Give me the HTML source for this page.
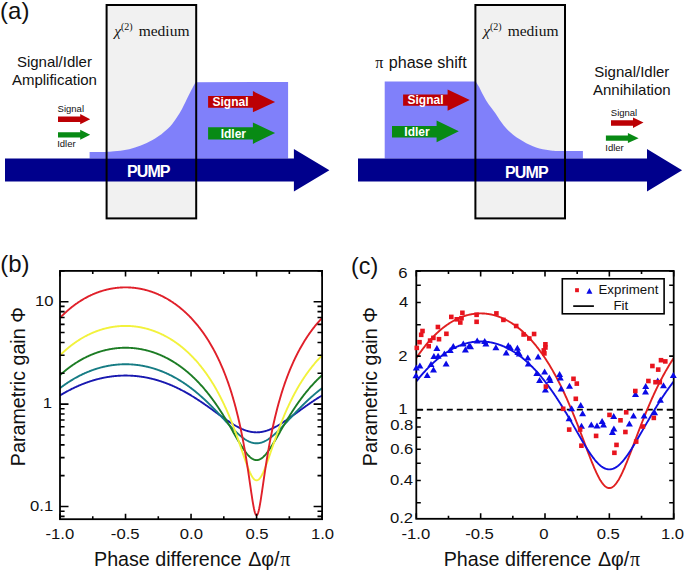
<!DOCTYPE html>
<html><head><meta charset="utf-8"><style>
html,body{margin:0;padding:0;background:#fff;width:685px;height:572px;overflow:hidden}
svg{display:block}
</style></head><body>
<svg width="685" height="572" viewBox="0 0 685 572">
<rect width="685" height="572" fill="#fff"/>
<text transform="translate(0.1,18.8) scale(1.045,1)" font-family="Liberation Sans, sans-serif" font-size="23" fill="#111">(a)</text>
<rect x="106.6" y="5" width="89.6" height="213.4" fill="#f1f1f1"/>
<path d="M89.6,158.6 L89.6,152 L106,152  C106.95,151.92 108.80,151.78 111.70,151.50 C114.60,151.22 119.52,150.98 123.40,150.30 C127.28,149.62 131.12,148.60 135.00,147.40 C138.88,146.20 142.80,144.95 146.70,143.10 C150.60,141.25 154.50,139.08 158.40,136.30 C162.30,133.52 166.98,129.62 170.10,126.40 C173.22,123.18 175.12,119.90 177.10,117.00 C179.08,114.10 180.08,112.58 182.00,109.00 C183.92,105.42 186.85,99.00 188.60,95.50 C190.35,92.00 191.35,90.22 192.50,88.00 C193.65,85.78 195.00,83.17 195.50,82.20 L288.1,82 L288.1,158.6 Z" fill="#8080fa"/>
<polygon points="5.0,158.4 293.9,158.4 293.9,149.0 329.4,170.3 293.9,191.6 293.9,181.6 5.0,181.6" fill="#00008c" />
<text x="127.0" y="177.4" font-family="Liberation Sans, sans-serif" font-size="16" font-weight="bold" letter-spacing="-0.9" fill="#fff">PUMP</text>
<rect x="106.6" y="5" width="89.6" height="213.4" fill="none" stroke="#000" stroke-width="2"/>
<text x="114.2" y="36" font-family="Liberation Serif, serif" font-size="15.5" fill="#111"><tspan font-style="italic">&#967;</tspan><tspan font-size="10" dy="-6">(2)</tspan><tspan dy="6" dx="6">medium</tspan></text>
<polygon points="208.1,95.9 252.9,95.9 252.9,91.1 275.1,101.9 252.9,112.3 252.9,107.7 208.1,107.7" fill="#bc0004" />
<text x="212.5" y="105.5" font-family="Liberation Sans, sans-serif" font-size="12" font-weight="bold" letter-spacing="0" fill="#fff">Signal</text>
<polygon points="208.1,127.2 252.9,127.2 252.9,122.5 275.1,132.9 252.9,143.9 252.9,139.5 208.1,139.5" fill="#088a14" />
<text x="220.7" y="137.5" font-family="Liberation Sans, sans-serif" font-size="12" font-weight="bold" letter-spacing="0" fill="#fff">Idler</text>
<text x="54.4" y="66.5" font-family="Liberation Sans, sans-serif" font-size="15" text-anchor="middle" fill="#111">Signal/Idler</text>
<text x="54.4" y="85" font-family="Liberation Sans, sans-serif" font-size="15" text-anchor="middle" fill="#111">Amplification</text>
<text x="57.6" y="111.8" font-family="Liberation Sans, sans-serif" font-size="9.5" fill="#111">Signal</text>
<polygon points="58.0,116.6 80.2,116.6 80.2,114.0 90.2,119.2 80.2,124.3 80.2,122.0 58.0,122.0" fill="#bc0004" />
<polygon points="58.0,132.2 80.2,132.2 80.2,129.7 90.2,134.8 80.2,139.8 80.2,137.4 58.0,137.4" fill="#088a14" />
<text x="57.2" y="147.2" font-family="Liberation Sans, sans-serif" font-size="9.5" fill="#111">Idler</text>
<rect x="475.4" y="5" width="89.6" height="213.4" fill="#f1f1f1"/>
<path d="M384.7,158.6 L384.7,81.4 L475.8,81.4  C476.33,82.47 477.73,84.48 479.00,86.80 C480.27,89.12 481.80,92.58 483.40,95.50 C485.00,98.42 486.63,101.38 488.60,104.30 C490.57,107.22 493.13,110.08 495.20,113.00 C497.27,115.92 499.10,119.17 501.00,121.80 C502.90,124.43 504.58,126.65 506.60,128.80 C508.62,130.95 510.92,132.95 513.10,134.70 C515.28,136.45 517.50,137.87 519.70,139.30 C521.90,140.73 524.10,142.13 526.30,143.30 C528.50,144.47 530.72,145.43 532.90,146.30 C535.08,147.17 537.22,147.92 539.40,148.50 C541.58,149.08 543.80,149.43 546.00,149.80 C548.20,150.17 549.77,150.48 552.60,150.70 C555.43,150.92 561.27,151.03 563.00,151.10 L582.9,151.1 L582.9,158.6 Z" fill="#8080fa"/>
<polygon points="358.0,158.4 647.0,158.4 647.0,149.0 682.1,170.3 647.0,191.6 647.0,181.6 358.0,181.6" fill="#00008c" />
<text x="505.1" y="177.5" font-family="Liberation Sans, sans-serif" font-size="16" font-weight="bold" letter-spacing="-0.9" fill="#fff">PUMP</text>
<rect x="475.4" y="5" width="89.6" height="213.4" fill="none" stroke="#000" stroke-width="2"/>
<text x="483.2" y="36" font-family="Liberation Serif, serif" font-size="15.5" fill="#111"><tspan font-style="italic">&#967;</tspan><tspan font-size="10" dy="-6">(2)</tspan><tspan dy="6" dx="6">medium</tspan></text>
<polygon points="403.1,94.4 447.6,94.4 447.6,89.4 469.8,99.9 447.6,110.8 447.6,105.7 403.1,105.7" fill="#bc0004" />
<text x="407.5" y="103.6" font-family="Liberation Sans, sans-serif" font-size="12" font-weight="bold" letter-spacing="0" fill="#fff">Signal</text>
<polygon points="392.0,125.9 436.6,125.9 436.6,120.6 458.8,131.3 436.6,142.2 436.6,137.6 392.0,137.6" fill="#088a14" />
<text x="404.3" y="135.9" font-family="Liberation Sans, sans-serif" font-size="12" font-weight="bold" letter-spacing="0" fill="#fff">Idler</text>
<text x="375.3" y="68.2" font-family="Liberation Serif, serif" font-size="16" fill="#111">&#960;</text>
<text x="388.7" y="68.2" font-family="Liberation Sans, sans-serif" font-size="16.15" fill="#111">phase shift</text>
<text x="631.8" y="76.7" font-family="Liberation Sans, sans-serif" font-size="15" text-anchor="middle" fill="#111">Signal/Idler</text>
<text x="631.8" y="95" font-family="Liberation Sans, sans-serif" font-size="15" text-anchor="middle" fill="#111">Annihilation</text>
<text x="610.8" y="115.6" font-family="Liberation Sans, sans-serif" font-size="9.5" fill="#111">Signal</text>
<polygon points="611.0,120.2 633.0,120.2 633.0,117.4 643.5,122.5 633.0,127.9 633.0,125.7 611.0,125.7" fill="#bc0004" />
<polygon points="605.9,135.4 627.9,135.4 627.9,133.0 638.6,138.2 627.9,143.1 627.9,140.7 605.9,140.7" fill="#088a14" />
<text x="605.3" y="150.8" font-family="Liberation Sans, sans-serif" font-size="9.5" fill="#111">Idler</text>
<defs><clipPath id="cb"><rect x="60.0" y="270.9" width="262.1" height="248.3"/></clipPath>
<clipPath id="cc"><rect x="416.3" y="270.9" width="257.4" height="247.9"/></clipPath></defs>
<path d="M60.00,395.44 L60.44,395.18 L60.87,394.92 L61.31,394.66 L61.75,394.40 L62.18,394.15 L62.62,393.89 L63.06,393.64 L63.49,393.39 L63.93,393.14 L64.37,392.89 L64.81,392.65 L65.24,392.40 L65.68,392.16 L66.12,391.92 L66.55,391.68 L66.99,391.44 L67.43,391.21 L67.86,390.97 L68.30,390.74 L68.74,390.51 L69.17,390.28 L69.61,390.05 L70.05,389.83 L70.48,389.60 L70.92,389.38 L71.36,389.16 L71.79,388.94 L72.23,388.73 L72.67,388.51 L73.11,388.30 L73.54,388.09 L73.98,387.88 L74.42,387.67 L74.85,387.46 L75.29,387.26 L75.73,387.05 L76.16,386.85 L76.60,386.65 L77.04,386.45 L77.47,386.26 L77.91,386.06 L78.35,385.87 L78.78,385.68 L79.22,385.49 L79.66,385.30 L80.09,385.12 L80.53,384.94 L80.97,384.75 L81.40,384.57 L81.84,384.40 L82.28,384.22 L82.72,384.04 L83.15,383.87 L83.59,383.70 L84.03,383.53 L84.46,383.36 L84.90,383.20 L85.34,383.03 L85.77,382.87 L86.21,382.71 L86.65,382.55 L87.08,382.40 L87.52,382.24 L87.96,382.09 L88.39,381.94 L88.83,381.79 L89.27,381.64 L89.70,381.49 L90.14,381.35 L90.58,381.20 L91.02,381.06 L91.45,380.92 L91.89,380.79 L92.33,380.65 L92.76,380.52 L93.20,380.39 L93.64,380.26 L94.07,380.13 L94.51,380.00 L94.95,379.88 L95.38,379.75 L95.82,379.63 L96.26,379.51 L96.69,379.40 L97.13,379.28 L97.57,379.17 L98.00,379.05 L98.44,378.94 L98.88,378.84 L99.32,378.73 L99.75,378.62 L100.19,378.52 L100.63,378.42 L101.06,378.32 L101.50,378.22 L101.94,378.12 L102.37,378.03 L102.81,377.94 L103.25,377.85 L103.68,377.76 L104.12,377.67 L104.56,377.58 L104.99,377.50 L105.43,377.42 L105.87,377.34 L106.30,377.26 L106.74,377.18 L107.18,377.11 L107.61,377.04 L108.05,376.96 L108.49,376.89 L108.93,376.83 L109.36,376.76 L109.80,376.70 L110.24,376.63 L110.67,376.57 L111.11,376.51 L111.55,376.46 L111.98,376.40 L112.42,376.35 L112.86,376.30 L113.29,376.25 L113.73,376.20 L114.17,376.15 L114.60,376.11 L115.04,376.06 L115.48,376.02 L115.91,375.98 L116.35,375.94 L116.79,375.91 L117.23,375.87 L117.66,375.84 L118.10,375.81 L118.54,375.78 L118.97,375.75 L119.41,375.73 L119.85,375.70 L120.28,375.68 L120.72,375.66 L121.16,375.64 L121.59,375.63 L122.03,375.61 L122.47,375.60 L122.90,375.59 L123.34,375.58 L123.78,375.57 L124.21,375.56 L124.65,375.56 L125.09,375.56 L125.53,375.56 L125.96,375.56 L126.40,375.56 L126.84,375.56 L127.27,375.57 L127.71,375.58 L128.15,375.59 L128.58,375.60 L129.02,375.61 L129.46,375.63 L129.89,375.64 L130.33,375.66 L130.77,375.68 L131.20,375.70 L131.64,375.73 L132.08,375.75 L132.51,375.78 L132.95,375.81 L133.39,375.84 L133.82,375.87 L134.26,375.91 L134.70,375.94 L135.14,375.98 L135.57,376.02 L136.01,376.06 L136.45,376.11 L136.88,376.15 L137.32,376.20 L137.76,376.25 L138.19,376.30 L138.63,376.35 L139.07,376.40 L139.50,376.46 L139.94,376.51 L140.38,376.57 L140.81,376.63 L141.25,376.70 L141.69,376.76 L142.12,376.83 L142.56,376.89 L143.00,376.96 L143.44,377.04 L143.87,377.11 L144.31,377.18 L144.75,377.26 L145.18,377.34 L145.62,377.42 L146.06,377.50 L146.49,377.58 L146.93,377.67 L147.37,377.76 L147.80,377.85 L148.24,377.94 L148.68,378.03 L149.11,378.12 L149.55,378.22 L149.99,378.32 L150.42,378.42 L150.86,378.52 L151.30,378.62 L151.74,378.73 L152.17,378.84 L152.61,378.94 L153.05,379.05 L153.48,379.17 L153.92,379.28 L154.36,379.40 L154.79,379.51 L155.23,379.63 L155.67,379.75 L156.10,379.88 L156.54,380.00 L156.98,380.13 L157.41,380.26 L157.85,380.39 L158.29,380.52 L158.72,380.65 L159.16,380.79 L159.60,380.92 L160.03,381.06 L160.47,381.20 L160.91,381.35 L161.35,381.49 L161.78,381.64 L162.22,381.79 L162.66,381.94 L163.09,382.09 L163.53,382.24 L163.97,382.40 L164.40,382.55 L164.84,382.71 L165.28,382.87 L165.71,383.03 L166.15,383.20 L166.59,383.36 L167.02,383.53 L167.46,383.70 L167.90,383.87 L168.33,384.04 L168.77,384.22 L169.21,384.40 L169.65,384.57 L170.08,384.75 L170.52,384.94 L170.96,385.12 L171.39,385.30 L171.83,385.49 L172.27,385.68 L172.70,385.87 L173.14,386.06 L173.58,386.26 L174.01,386.45 L174.45,386.65 L174.89,386.85 L175.32,387.05 L175.76,387.26 L176.20,387.46 L176.63,387.67 L177.07,387.88 L177.51,388.09 L177.94,388.30 L178.38,388.51 L178.82,388.73 L179.26,388.94 L179.69,389.16 L180.13,389.38 L180.57,389.60 L181.00,389.83 L181.44,390.05 L181.88,390.28 L182.31,390.51 L182.75,390.74 L183.19,390.97 L183.62,391.21 L184.06,391.44 L184.50,391.68 L184.93,391.92 L185.37,392.16 L185.81,392.40 L186.24,392.65 L186.68,392.89 L187.12,393.14 L187.56,393.39 L187.99,393.64 L188.43,393.89 L188.87,394.15 L189.30,394.40 L189.74,394.66 L190.18,394.92 L190.61,395.18 L191.05,395.44 L191.49,395.70 L191.92,395.97 L192.36,396.23 L192.80,396.50 L193.23,396.77 L193.67,397.04 L194.11,397.31 L194.54,397.59 L194.98,397.86 L195.42,398.14 L195.86,398.42 L196.29,398.70 L196.73,398.98 L197.17,399.26 L197.60,399.55 L198.04,399.83 L198.48,400.12 L198.91,400.40 L199.35,400.69 L199.79,400.98 L200.22,401.28 L200.66,401.57 L201.10,401.86 L201.53,402.16 L201.97,402.45 L202.41,402.75 L202.84,403.05 L203.28,403.35 L203.72,403.65 L204.16,403.95 L204.59,404.26 L205.03,404.56 L205.47,404.86 L205.90,405.17 L206.34,405.48 L206.78,405.78 L207.21,406.09 L207.65,406.40 L208.09,406.71 L208.52,407.02 L208.96,407.33 L209.40,407.65 L209.83,407.96 L210.27,408.27 L210.71,408.59 L211.14,408.90 L211.58,409.22 L212.02,409.53 L212.45,409.85 L212.89,410.17 L213.33,410.48 L213.77,410.80 L214.20,411.12 L214.64,411.43 L215.08,411.75 L215.51,412.07 L215.95,412.39 L216.39,412.71 L216.82,413.02 L217.26,413.34 L217.70,413.66 L218.13,413.98 L218.57,414.29 L219.01,414.61 L219.44,414.93 L219.88,415.24 L220.32,415.56 L220.75,415.87 L221.19,416.19 L221.63,416.50 L222.07,416.81 L222.50,417.13 L222.94,417.44 L223.38,417.75 L223.81,418.06 L224.25,418.37 L224.69,418.67 L225.12,418.98 L225.56,419.28 L226.00,419.59 L226.43,419.89 L226.87,420.19 L227.31,420.49 L227.74,420.78 L228.18,421.08 L228.62,421.37 L229.05,421.66 L229.49,421.95 L229.93,422.24 L230.37,422.52 L230.80,422.81 L231.24,423.09 L231.68,423.36 L232.11,423.64 L232.55,423.91 L232.99,424.18 L233.42,424.45 L233.86,424.71 L234.30,424.97 L234.73,425.23 L235.17,425.49 L235.61,425.74 L236.04,425.99 L236.48,426.23 L236.92,426.47 L237.35,426.71 L237.79,426.94 L238.23,427.18 L238.66,427.40 L239.10,427.62 L239.54,427.84 L239.98,428.06 L240.41,428.27 L240.85,428.47 L241.29,428.67 L241.72,428.87 L242.16,429.06 L242.60,429.25 L243.03,429.43 L243.47,429.61 L243.91,429.78 L244.34,429.95 L244.78,430.11 L245.22,430.27 L245.65,430.42 L246.09,430.56 L246.53,430.71 L246.96,430.84 L247.40,430.97 L247.84,431.10 L248.28,431.21 L248.71,431.33 L249.15,431.43 L249.59,431.54 L250.02,431.63 L250.46,431.72 L250.90,431.81 L251.33,431.88 L251.77,431.95 L252.21,432.02 L252.64,432.08 L253.08,432.13 L253.52,432.18 L253.95,432.22 L254.39,432.26 L254.83,432.28 L255.26,432.31 L255.70,432.32 L256.14,432.33 L256.58,432.33 L257.01,432.33 L257.45,432.32 L257.89,432.31 L258.32,432.28 L258.76,432.26 L259.20,432.22 L259.63,432.18 L260.07,432.13 L260.51,432.08 L260.94,432.02 L261.38,431.95 L261.82,431.88 L262.25,431.81 L262.69,431.72 L263.13,431.63 L263.56,431.54 L264.00,431.43 L264.44,431.33 L264.87,431.21 L265.31,431.10 L265.75,430.97 L266.19,430.84 L266.62,430.71 L267.06,430.56 L267.50,430.42 L267.93,430.27 L268.37,430.11 L268.81,429.95 L269.24,429.78 L269.68,429.61 L270.12,429.43 L270.55,429.25 L270.99,429.06 L271.43,428.87 L271.86,428.67 L272.30,428.47 L272.74,428.27 L273.17,428.06 L273.61,427.84 L274.05,427.62 L274.49,427.40 L274.92,427.18 L275.36,426.94 L275.80,426.71 L276.23,426.47 L276.67,426.23 L277.11,425.99 L277.54,425.74 L277.98,425.49 L278.42,425.23 L278.85,424.97 L279.29,424.71 L279.73,424.45 L280.16,424.18 L280.60,423.91 L281.04,423.64 L281.47,423.36 L281.91,423.09 L282.35,422.81 L282.79,422.52 L283.22,422.24 L283.66,421.95 L284.10,421.66 L284.53,421.37 L284.97,421.08 L285.41,420.78 L285.84,420.49 L286.28,420.19 L286.72,419.89 L287.15,419.59 L287.59,419.28 L288.03,418.98 L288.46,418.67 L288.90,418.37 L289.34,418.06 L289.77,417.75 L290.21,417.44 L290.65,417.13 L291.08,416.81 L291.52,416.50 L291.96,416.19 L292.40,415.87 L292.83,415.56 L293.27,415.24 L293.71,414.93 L294.14,414.61 L294.58,414.29 L295.02,413.98 L295.45,413.66 L295.89,413.34 L296.33,413.02 L296.76,412.71 L297.20,412.39 L297.64,412.07 L298.07,411.75 L298.51,411.43 L298.95,411.12 L299.38,410.80 L299.82,410.48 L300.26,410.17 L300.70,409.85 L301.13,409.53 L301.57,409.22 L302.01,408.90 L302.44,408.59 L302.88,408.27 L303.32,407.96 L303.75,407.65 L304.19,407.33 L304.63,407.02 L305.06,406.71 L305.50,406.40 L305.94,406.09 L306.37,405.78 L306.81,405.48 L307.25,405.17 L307.68,404.86 L308.12,404.56 L308.56,404.26 L309.00,403.95 L309.43,403.65 L309.87,403.35 L310.31,403.05 L310.74,402.75 L311.18,402.45 L311.62,402.16 L312.05,401.86 L312.49,401.57 L312.93,401.28 L313.36,400.98 L313.80,400.69 L314.24,400.40 L314.67,400.12 L315.11,399.83 L315.55,399.55 L315.98,399.26 L316.42,398.98 L316.86,398.70 L317.29,398.42 L317.73,398.14 L318.17,397.86 L318.61,397.59 L319.04,397.31 L319.48,397.04 L319.92,396.77 L320.35,396.50 L320.79,396.23 L321.23,395.97 L321.66,395.70 L322.10,395.44" fill="none" stroke="#1818b0" stroke-width="1.9" clip-path="url(#cb)"/>
<path d="M60.00,388.13 L60.44,387.80 L60.87,387.47 L61.31,387.15 L61.75,386.83 L62.18,386.51 L62.62,386.19 L63.06,385.87 L63.49,385.56 L63.93,385.25 L64.37,384.94 L64.81,384.64 L65.24,384.34 L65.68,384.04 L66.12,383.74 L66.55,383.44 L66.99,383.15 L67.43,382.86 L67.86,382.57 L68.30,382.28 L68.74,382.00 L69.17,381.72 L69.61,381.44 L70.05,381.17 L70.48,380.89 L70.92,380.62 L71.36,380.35 L71.79,380.09 L72.23,379.82 L72.67,379.56 L73.11,379.30 L73.54,379.04 L73.98,378.79 L74.42,378.54 L74.85,378.29 L75.29,378.04 L75.73,377.79 L76.16,377.55 L76.60,377.31 L77.04,377.07 L77.47,376.84 L77.91,376.60 L78.35,376.37 L78.78,376.14 L79.22,375.92 L79.66,375.69 L80.09,375.47 L80.53,375.25 L80.97,375.03 L81.40,374.82 L81.84,374.61 L82.28,374.40 L82.72,374.19 L83.15,373.98 L83.59,373.78 L84.03,373.58 L84.46,373.38 L84.90,373.18 L85.34,372.99 L85.77,372.79 L86.21,372.60 L86.65,372.42 L87.08,372.23 L87.52,372.05 L87.96,371.87 L88.39,371.69 L88.83,371.51 L89.27,371.34 L89.70,371.16 L90.14,370.99 L90.58,370.83 L91.02,370.66 L91.45,370.50 L91.89,370.34 L92.33,370.18 L92.76,370.02 L93.20,369.87 L93.64,369.71 L94.07,369.56 L94.51,369.41 L94.95,369.27 L95.38,369.12 L95.82,368.98 L96.26,368.84 L96.69,368.71 L97.13,368.57 L97.57,368.44 L98.00,368.31 L98.44,368.18 L98.88,368.05 L99.32,367.93 L99.75,367.80 L100.19,367.68 L100.63,367.57 L101.06,367.45 L101.50,367.34 L101.94,367.22 L102.37,367.11 L102.81,367.01 L103.25,366.90 L103.68,366.80 L104.12,366.70 L104.56,366.60 L104.99,366.50 L105.43,366.40 L105.87,366.31 L106.30,366.22 L106.74,366.13 L107.18,366.04 L107.61,365.96 L108.05,365.88 L108.49,365.80 L108.93,365.72 L109.36,365.64 L109.80,365.57 L110.24,365.49 L110.67,365.42 L111.11,365.36 L111.55,365.29 L111.98,365.23 L112.42,365.16 L112.86,365.10 L113.29,365.05 L113.73,364.99 L114.17,364.94 L114.60,364.88 L115.04,364.83 L115.48,364.79 L115.91,364.74 L116.35,364.70 L116.79,364.66 L117.23,364.62 L117.66,364.58 L118.10,364.54 L118.54,364.51 L118.97,364.48 L119.41,364.45 L119.85,364.42 L120.28,364.40 L120.72,364.37 L121.16,364.35 L121.59,364.33 L122.03,364.31 L122.47,364.30 L122.90,364.29 L123.34,364.27 L123.78,364.27 L124.21,364.26 L124.65,364.25 L125.09,364.25 L125.53,364.25 L125.96,364.25 L126.40,364.25 L126.84,364.26 L127.27,364.27 L127.71,364.27 L128.15,364.29 L128.58,364.30 L129.02,364.31 L129.46,364.33 L129.89,364.35 L130.33,364.37 L130.77,364.40 L131.20,364.42 L131.64,364.45 L132.08,364.48 L132.51,364.51 L132.95,364.54 L133.39,364.58 L133.82,364.62 L134.26,364.66 L134.70,364.70 L135.14,364.74 L135.57,364.79 L136.01,364.83 L136.45,364.88 L136.88,364.94 L137.32,364.99 L137.76,365.05 L138.19,365.10 L138.63,365.16 L139.07,365.23 L139.50,365.29 L139.94,365.36 L140.38,365.42 L140.81,365.49 L141.25,365.57 L141.69,365.64 L142.12,365.72 L142.56,365.80 L143.00,365.88 L143.44,365.96 L143.87,366.04 L144.31,366.13 L144.75,366.22 L145.18,366.31 L145.62,366.40 L146.06,366.50 L146.49,366.60 L146.93,366.70 L147.37,366.80 L147.80,366.90 L148.24,367.01 L148.68,367.11 L149.11,367.22 L149.55,367.34 L149.99,367.45 L150.42,367.57 L150.86,367.68 L151.30,367.80 L151.74,367.93 L152.17,368.05 L152.61,368.18 L153.05,368.31 L153.48,368.44 L153.92,368.57 L154.36,368.71 L154.79,368.84 L155.23,368.98 L155.67,369.12 L156.10,369.27 L156.54,369.41 L156.98,369.56 L157.41,369.71 L157.85,369.87 L158.29,370.02 L158.72,370.18 L159.16,370.34 L159.60,370.50 L160.03,370.66 L160.47,370.83 L160.91,370.99 L161.35,371.16 L161.78,371.34 L162.22,371.51 L162.66,371.69 L163.09,371.87 L163.53,372.05 L163.97,372.23 L164.40,372.42 L164.84,372.60 L165.28,372.79 L165.71,372.99 L166.15,373.18 L166.59,373.38 L167.02,373.58 L167.46,373.78 L167.90,373.98 L168.33,374.19 L168.77,374.40 L169.21,374.61 L169.65,374.82 L170.08,375.03 L170.52,375.25 L170.96,375.47 L171.39,375.69 L171.83,375.92 L172.27,376.14 L172.70,376.37 L173.14,376.60 L173.58,376.84 L174.01,377.07 L174.45,377.31 L174.89,377.55 L175.32,377.79 L175.76,378.04 L176.20,378.29 L176.63,378.54 L177.07,378.79 L177.51,379.04 L177.94,379.30 L178.38,379.56 L178.82,379.82 L179.26,380.09 L179.69,380.35 L180.13,380.62 L180.57,380.89 L181.00,381.17 L181.44,381.44 L181.88,381.72 L182.31,382.00 L182.75,382.28 L183.19,382.57 L183.62,382.86 L184.06,383.15 L184.50,383.44 L184.93,383.74 L185.37,384.04 L185.81,384.34 L186.24,384.64 L186.68,384.94 L187.12,385.25 L187.56,385.56 L187.99,385.87 L188.43,386.19 L188.87,386.51 L189.30,386.83 L189.74,387.15 L190.18,387.47 L190.61,387.80 L191.05,388.13 L191.49,388.46 L191.92,388.80 L192.36,389.14 L192.80,389.48 L193.23,389.82 L193.67,390.16 L194.11,390.51 L194.54,390.86 L194.98,391.21 L195.42,391.57 L195.86,391.92 L196.29,392.28 L196.73,392.64 L197.17,393.01 L197.60,393.37 L198.04,393.74 L198.48,394.11 L198.91,394.49 L199.35,394.87 L199.79,395.24 L200.22,395.63 L200.66,396.01 L201.10,396.39 L201.53,396.78 L201.97,397.17 L202.41,397.57 L202.84,397.96 L203.28,398.36 L203.72,398.76 L204.16,399.16 L204.59,399.57 L205.03,399.97 L205.47,400.38 L205.90,400.79 L206.34,401.21 L206.78,401.62 L207.21,402.04 L207.65,402.46 L208.09,402.88 L208.52,403.31 L208.96,403.74 L209.40,404.16 L209.83,404.59 L210.27,405.03 L210.71,405.46 L211.14,405.90 L211.58,406.34 L212.02,406.78 L212.45,407.22 L212.89,407.66 L213.33,408.11 L213.77,408.56 L214.20,409.01 L214.64,409.46 L215.08,409.91 L215.51,410.36 L215.95,410.82 L216.39,411.27 L216.82,411.73 L217.26,412.19 L217.70,412.65 L218.13,413.11 L218.57,413.58 L219.01,414.04 L219.44,414.51 L219.88,414.97 L220.32,415.44 L220.75,415.91 L221.19,416.38 L221.63,416.84 L222.07,417.31 L222.50,417.78 L222.94,418.25 L223.38,418.73 L223.81,419.20 L224.25,419.67 L224.69,420.14 L225.12,420.61 L225.56,421.08 L226.00,421.55 L226.43,422.02 L226.87,422.49 L227.31,422.95 L227.74,423.42 L228.18,423.89 L228.62,424.35 L229.05,424.82 L229.49,425.28 L229.93,425.74 L230.37,426.20 L230.80,426.65 L231.24,427.11 L231.68,427.56 L232.11,428.01 L232.55,428.46 L232.99,428.91 L233.42,429.35 L233.86,429.79 L234.30,430.22 L234.73,430.66 L235.17,431.08 L235.61,431.51 L236.04,431.93 L236.48,432.35 L236.92,432.76 L237.35,433.17 L237.79,433.57 L238.23,433.97 L238.66,434.36 L239.10,434.75 L239.54,435.13 L239.98,435.50 L240.41,435.87 L240.85,436.24 L241.29,436.59 L241.72,436.94 L242.16,437.28 L242.60,437.62 L243.03,437.95 L243.47,438.27 L243.91,438.58 L244.34,438.88 L244.78,439.18 L245.22,439.46 L245.65,439.74 L246.09,440.01 L246.53,440.27 L246.96,440.52 L247.40,440.76 L247.84,440.99 L248.28,441.21 L248.71,441.42 L249.15,441.62 L249.59,441.81 L250.02,441.99 L250.46,442.16 L250.90,442.32 L251.33,442.47 L251.77,442.60 L252.21,442.72 L252.64,442.84 L253.08,442.94 L253.52,443.03 L253.95,443.10 L254.39,443.17 L254.83,443.22 L255.26,443.27 L255.70,443.30 L256.14,443.31 L256.58,443.32 L257.01,443.31 L257.45,443.30 L257.89,443.27 L258.32,443.22 L258.76,443.17 L259.20,443.10 L259.63,443.03 L260.07,442.94 L260.51,442.84 L260.94,442.72 L261.38,442.60 L261.82,442.47 L262.25,442.32 L262.69,442.16 L263.13,441.99 L263.56,441.81 L264.00,441.62 L264.44,441.42 L264.87,441.21 L265.31,440.99 L265.75,440.76 L266.19,440.52 L266.62,440.27 L267.06,440.01 L267.50,439.74 L267.93,439.46 L268.37,439.18 L268.81,438.88 L269.24,438.58 L269.68,438.27 L270.12,437.95 L270.55,437.62 L270.99,437.28 L271.43,436.94 L271.86,436.59 L272.30,436.24 L272.74,435.87 L273.17,435.50 L273.61,435.13 L274.05,434.75 L274.49,434.36 L274.92,433.97 L275.36,433.57 L275.80,433.17 L276.23,432.76 L276.67,432.35 L277.11,431.93 L277.54,431.51 L277.98,431.08 L278.42,430.66 L278.85,430.22 L279.29,429.79 L279.73,429.35 L280.16,428.91 L280.60,428.46 L281.04,428.01 L281.47,427.56 L281.91,427.11 L282.35,426.65 L282.79,426.20 L283.22,425.74 L283.66,425.28 L284.10,424.82 L284.53,424.35 L284.97,423.89 L285.41,423.42 L285.84,422.95 L286.28,422.49 L286.72,422.02 L287.15,421.55 L287.59,421.08 L288.03,420.61 L288.46,420.14 L288.90,419.67 L289.34,419.20 L289.77,418.73 L290.21,418.25 L290.65,417.78 L291.08,417.31 L291.52,416.84 L291.96,416.38 L292.40,415.91 L292.83,415.44 L293.27,414.97 L293.71,414.51 L294.14,414.04 L294.58,413.58 L295.02,413.11 L295.45,412.65 L295.89,412.19 L296.33,411.73 L296.76,411.27 L297.20,410.82 L297.64,410.36 L298.07,409.91 L298.51,409.46 L298.95,409.01 L299.38,408.56 L299.82,408.11 L300.26,407.66 L300.70,407.22 L301.13,406.78 L301.57,406.34 L302.01,405.90 L302.44,405.46 L302.88,405.03 L303.32,404.59 L303.75,404.16 L304.19,403.74 L304.63,403.31 L305.06,402.88 L305.50,402.46 L305.94,402.04 L306.37,401.62 L306.81,401.21 L307.25,400.79 L307.68,400.38 L308.12,399.97 L308.56,399.57 L309.00,399.16 L309.43,398.76 L309.87,398.36 L310.31,397.96 L310.74,397.57 L311.18,397.17 L311.62,396.78 L312.05,396.39 L312.49,396.01 L312.93,395.63 L313.36,395.24 L313.80,394.87 L314.24,394.49 L314.67,394.11 L315.11,393.74 L315.55,393.37 L315.98,393.01 L316.42,392.64 L316.86,392.28 L317.29,391.92 L317.73,391.57 L318.17,391.21 L318.61,390.86 L319.04,390.51 L319.48,390.16 L319.92,389.82 L320.35,389.48 L320.79,389.14 L321.23,388.80 L321.66,388.46 L322.10,388.13" fill="none" stroke="#167c84" stroke-width="1.9" clip-path="url(#cb)"/>
<path d="M60.00,375.16 L60.44,374.76 L60.87,374.37 L61.31,373.99 L61.75,373.60 L62.18,373.22 L62.62,372.84 L63.06,372.47 L63.49,372.10 L63.93,371.73 L64.37,371.37 L64.81,371.01 L65.24,370.65 L65.68,370.29 L66.12,369.94 L66.55,369.60 L66.99,369.25 L67.43,368.91 L67.86,368.57 L68.30,368.24 L68.74,367.91 L69.17,367.58 L69.61,367.25 L70.05,366.93 L70.48,366.61 L70.92,366.30 L71.36,365.99 L71.79,365.68 L72.23,365.37 L72.67,365.07 L73.11,364.77 L73.54,364.47 L73.98,364.18 L74.42,363.88 L74.85,363.60 L75.29,363.31 L75.73,363.03 L76.16,362.75 L76.60,362.47 L77.04,362.20 L77.47,361.93 L77.91,361.66 L78.35,361.40 L78.78,361.13 L79.22,360.88 L79.66,360.62 L80.09,360.37 L80.53,360.12 L80.97,359.87 L81.40,359.62 L81.84,359.38 L82.28,359.14 L82.72,358.90 L83.15,358.67 L83.59,358.44 L84.03,358.21 L84.46,357.98 L84.90,357.76 L85.34,357.54 L85.77,357.32 L86.21,357.11 L86.65,356.89 L87.08,356.68 L87.52,356.48 L87.96,356.27 L88.39,356.07 L88.83,355.87 L89.27,355.67 L89.70,355.48 L90.14,355.29 L90.58,355.10 L91.02,354.91 L91.45,354.73 L91.89,354.55 L92.33,354.37 L92.76,354.19 L93.20,354.02 L93.64,353.85 L94.07,353.68 L94.51,353.51 L94.95,353.35 L95.38,353.19 L95.82,353.03 L96.26,352.87 L96.69,352.72 L97.13,352.57 L97.57,352.42 L98.00,352.27 L98.44,352.13 L98.88,351.99 L99.32,351.85 L99.75,351.71 L100.19,351.57 L100.63,351.44 L101.06,351.31 L101.50,351.19 L101.94,351.06 L102.37,350.94 L102.81,350.82 L103.25,350.70 L103.68,350.59 L104.12,350.47 L104.56,350.36 L104.99,350.25 L105.43,350.15 L105.87,350.04 L106.30,349.94 L106.74,349.84 L107.18,349.75 L107.61,349.65 L108.05,349.56 L108.49,349.47 L108.93,349.38 L109.36,349.30 L109.80,349.22 L110.24,349.14 L110.67,349.06 L111.11,348.98 L111.55,348.91 L111.98,348.84 L112.42,348.77 L112.86,348.70 L113.29,348.64 L113.73,348.58 L114.17,348.52 L114.60,348.46 L115.04,348.40 L115.48,348.35 L115.91,348.30 L116.35,348.25 L116.79,348.21 L117.23,348.16 L117.66,348.12 L118.10,348.08 L118.54,348.04 L118.97,348.01 L119.41,347.98 L119.85,347.95 L120.28,347.92 L120.72,347.89 L121.16,347.87 L121.59,347.85 L122.03,347.83 L122.47,347.81 L122.90,347.80 L123.34,347.78 L123.78,347.77 L124.21,347.77 L124.65,347.76 L125.09,347.76 L125.53,347.76 L125.96,347.76 L126.40,347.76 L126.84,347.77 L127.27,347.77 L127.71,347.78 L128.15,347.80 L128.58,347.81 L129.02,347.83 L129.46,347.85 L129.89,347.87 L130.33,347.89 L130.77,347.92 L131.20,347.95 L131.64,347.98 L132.08,348.01 L132.51,348.04 L132.95,348.08 L133.39,348.12 L133.82,348.16 L134.26,348.21 L134.70,348.25 L135.14,348.30 L135.57,348.35 L136.01,348.40 L136.45,348.46 L136.88,348.52 L137.32,348.58 L137.76,348.64 L138.19,348.70 L138.63,348.77 L139.07,348.84 L139.50,348.91 L139.94,348.98 L140.38,349.06 L140.81,349.14 L141.25,349.22 L141.69,349.30 L142.12,349.38 L142.56,349.47 L143.00,349.56 L143.44,349.65 L143.87,349.75 L144.31,349.84 L144.75,349.94 L145.18,350.04 L145.62,350.15 L146.06,350.25 L146.49,350.36 L146.93,350.47 L147.37,350.59 L147.80,350.70 L148.24,350.82 L148.68,350.94 L149.11,351.06 L149.55,351.19 L149.99,351.31 L150.42,351.44 L150.86,351.57 L151.30,351.71 L151.74,351.85 L152.17,351.99 L152.61,352.13 L153.05,352.27 L153.48,352.42 L153.92,352.57 L154.36,352.72 L154.79,352.87 L155.23,353.03 L155.67,353.19 L156.10,353.35 L156.54,353.51 L156.98,353.68 L157.41,353.85 L157.85,354.02 L158.29,354.19 L158.72,354.37 L159.16,354.55 L159.60,354.73 L160.03,354.91 L160.47,355.10 L160.91,355.29 L161.35,355.48 L161.78,355.67 L162.22,355.87 L162.66,356.07 L163.09,356.27 L163.53,356.48 L163.97,356.68 L164.40,356.89 L164.84,357.11 L165.28,357.32 L165.71,357.54 L166.15,357.76 L166.59,357.98 L167.02,358.21 L167.46,358.44 L167.90,358.67 L168.33,358.90 L168.77,359.14 L169.21,359.38 L169.65,359.62 L170.08,359.87 L170.52,360.12 L170.96,360.37 L171.39,360.62 L171.83,360.88 L172.27,361.13 L172.70,361.40 L173.14,361.66 L173.58,361.93 L174.01,362.20 L174.45,362.47 L174.89,362.75 L175.32,363.03 L175.76,363.31 L176.20,363.60 L176.63,363.88 L177.07,364.18 L177.51,364.47 L177.94,364.77 L178.38,365.07 L178.82,365.37 L179.26,365.68 L179.69,365.99 L180.13,366.30 L180.57,366.61 L181.00,366.93 L181.44,367.25 L181.88,367.58 L182.31,367.91 L182.75,368.24 L183.19,368.57 L183.62,368.91 L184.06,369.25 L184.50,369.60 L184.93,369.94 L185.37,370.29 L185.81,370.65 L186.24,371.01 L186.68,371.37 L187.12,371.73 L187.56,372.10 L187.99,372.47 L188.43,372.84 L188.87,373.22 L189.30,373.60 L189.74,373.99 L190.18,374.37 L190.61,374.76 L191.05,375.16 L191.49,375.56 L191.92,375.96 L192.36,376.37 L192.80,376.77 L193.23,377.19 L193.67,377.60 L194.11,378.02 L194.54,378.45 L194.98,378.88 L195.42,379.31 L195.86,379.74 L196.29,380.18 L196.73,380.62 L197.17,381.07 L197.60,381.52 L198.04,381.97 L198.48,382.43 L198.91,382.89 L199.35,383.36 L199.79,383.83 L200.22,384.30 L200.66,384.78 L201.10,385.26 L201.53,385.75 L201.97,386.24 L202.41,386.73 L202.84,387.23 L203.28,387.73 L203.72,388.24 L204.16,388.75 L204.59,389.26 L205.03,389.78 L205.47,390.30 L205.90,390.83 L206.34,391.36 L206.78,391.89 L207.21,392.43 L207.65,392.98 L208.09,393.52 L208.52,394.08 L208.96,394.63 L209.40,395.19 L209.83,395.76 L210.27,396.33 L210.71,396.90 L211.14,397.48 L211.58,398.07 L212.02,398.65 L212.45,399.24 L212.89,399.84 L213.33,400.44 L213.77,401.05 L214.20,401.66 L214.64,402.27 L215.08,402.89 L215.51,403.51 L215.95,404.14 L216.39,404.77 L216.82,405.41 L217.26,406.05 L217.70,406.69 L218.13,407.34 L218.57,408.00 L219.01,408.65 L219.44,409.32 L219.88,409.98 L220.32,410.65 L220.75,411.33 L221.19,412.01 L221.63,412.69 L222.07,413.38 L222.50,414.07 L222.94,414.77 L223.38,415.47 L223.81,416.17 L224.25,416.88 L224.69,417.59 L225.12,418.30 L225.56,419.02 L226.00,419.74 L226.43,420.47 L226.87,421.20 L227.31,421.93 L227.74,422.66 L228.18,423.40 L228.62,424.14 L229.05,424.88 L229.49,425.63 L229.93,426.37 L230.37,427.12 L230.80,427.88 L231.24,428.63 L231.68,429.38 L232.11,430.14 L232.55,430.89 L232.99,431.65 L233.42,432.41 L233.86,433.16 L234.30,433.92 L234.73,434.68 L235.17,435.43 L235.61,436.19 L236.04,436.94 L236.48,437.69 L236.92,438.44 L237.35,439.19 L237.79,439.93 L238.23,440.67 L238.66,441.40 L239.10,442.13 L239.54,442.86 L239.98,443.58 L240.41,444.29 L240.85,445.00 L241.29,445.69 L241.72,446.39 L242.16,447.07 L242.60,447.74 L243.03,448.40 L243.47,449.05 L243.91,449.69 L244.34,450.32 L244.78,450.94 L245.22,451.54 L245.65,452.12 L246.09,452.70 L246.53,453.25 L246.96,453.79 L247.40,454.31 L247.84,454.82 L248.28,455.30 L248.71,455.77 L249.15,456.21 L249.59,456.64 L250.02,457.04 L250.46,457.42 L250.90,457.78 L251.33,458.11 L251.77,458.42 L252.21,458.70 L252.64,458.96 L253.08,459.19 L253.52,459.40 L253.95,459.58 L254.39,459.73 L254.83,459.86 L255.26,459.95 L255.70,460.02 L256.14,460.07 L256.58,460.08 L257.01,460.07 L257.45,460.02 L257.89,459.95 L258.32,459.86 L258.76,459.73 L259.20,459.58 L259.63,459.40 L260.07,459.19 L260.51,458.96 L260.94,458.70 L261.38,458.42 L261.82,458.11 L262.25,457.78 L262.69,457.42 L263.13,457.04 L263.56,456.64 L264.00,456.21 L264.44,455.77 L264.87,455.30 L265.31,454.82 L265.75,454.31 L266.19,453.79 L266.62,453.25 L267.06,452.70 L267.50,452.12 L267.93,451.54 L268.37,450.94 L268.81,450.32 L269.24,449.69 L269.68,449.05 L270.12,448.40 L270.55,447.74 L270.99,447.07 L271.43,446.39 L271.86,445.69 L272.30,445.00 L272.74,444.29 L273.17,443.58 L273.61,442.86 L274.05,442.13 L274.49,441.40 L274.92,440.67 L275.36,439.93 L275.80,439.19 L276.23,438.44 L276.67,437.69 L277.11,436.94 L277.54,436.19 L277.98,435.43 L278.42,434.68 L278.85,433.92 L279.29,433.16 L279.73,432.41 L280.16,431.65 L280.60,430.89 L281.04,430.14 L281.47,429.38 L281.91,428.63 L282.35,427.88 L282.79,427.12 L283.22,426.37 L283.66,425.63 L284.10,424.88 L284.53,424.14 L284.97,423.40 L285.41,422.66 L285.84,421.93 L286.28,421.20 L286.72,420.47 L287.15,419.74 L287.59,419.02 L288.03,418.30 L288.46,417.59 L288.90,416.88 L289.34,416.17 L289.77,415.47 L290.21,414.77 L290.65,414.07 L291.08,413.38 L291.52,412.69 L291.96,412.01 L292.40,411.33 L292.83,410.65 L293.27,409.98 L293.71,409.32 L294.14,408.65 L294.58,408.00 L295.02,407.34 L295.45,406.69 L295.89,406.05 L296.33,405.41 L296.76,404.77 L297.20,404.14 L297.64,403.51 L298.07,402.89 L298.51,402.27 L298.95,401.66 L299.38,401.05 L299.82,400.44 L300.26,399.84 L300.70,399.24 L301.13,398.65 L301.57,398.07 L302.01,397.48 L302.44,396.90 L302.88,396.33 L303.32,395.76 L303.75,395.19 L304.19,394.63 L304.63,394.08 L305.06,393.52 L305.50,392.98 L305.94,392.43 L306.37,391.89 L306.81,391.36 L307.25,390.83 L307.68,390.30 L308.12,389.78 L308.56,389.26 L309.00,388.75 L309.43,388.24 L309.87,387.73 L310.31,387.23 L310.74,386.73 L311.18,386.24 L311.62,385.75 L312.05,385.26 L312.49,384.78 L312.93,384.30 L313.36,383.83 L313.80,383.36 L314.24,382.89 L314.67,382.43 L315.11,381.97 L315.55,381.52 L315.98,381.07 L316.42,380.62 L316.86,380.18 L317.29,379.74 L317.73,379.31 L318.17,378.88 L318.61,378.45 L319.04,378.02 L319.48,377.60 L319.92,377.19 L320.35,376.77 L320.79,376.37 L321.23,375.96 L321.66,375.56 L322.10,375.16" fill="none" stroke="#1c7c24" stroke-width="1.9" clip-path="url(#cb)"/>
<path d="M60.00,355.39 L60.44,354.96 L60.87,354.52 L61.31,354.10 L61.75,353.67 L62.18,353.26 L62.62,352.84 L63.06,352.43 L63.49,352.02 L63.93,351.62 L64.37,351.22 L64.81,350.83 L65.24,350.44 L65.68,350.05 L66.12,349.67 L66.55,349.29 L66.99,348.92 L67.43,348.55 L67.86,348.18 L68.30,347.81 L68.74,347.45 L69.17,347.10 L69.61,346.75 L70.05,346.40 L70.48,346.05 L70.92,345.71 L71.36,345.37 L71.79,345.04 L72.23,344.70 L72.67,344.38 L73.11,344.05 L73.54,343.73 L73.98,343.41 L74.42,343.10 L74.85,342.79 L75.29,342.48 L75.73,342.18 L76.16,341.88 L76.60,341.58 L77.04,341.29 L77.47,341.00 L77.91,340.71 L78.35,340.42 L78.78,340.14 L79.22,339.86 L79.66,339.59 L80.09,339.32 L80.53,339.05 L80.97,338.78 L81.40,338.52 L81.84,338.26 L82.28,338.00 L82.72,337.75 L83.15,337.50 L83.59,337.25 L84.03,337.01 L84.46,336.77 L84.90,336.53 L85.34,336.29 L85.77,336.06 L86.21,335.83 L86.65,335.61 L87.08,335.38 L87.52,335.16 L87.96,334.94 L88.39,334.73 L88.83,334.52 L89.27,334.31 L89.70,334.10 L90.14,333.90 L90.58,333.69 L91.02,333.50 L91.45,333.30 L91.89,333.11 L92.33,332.92 L92.76,332.73 L93.20,332.55 L93.64,332.36 L94.07,332.19 L94.51,332.01 L94.95,331.83 L95.38,331.66 L95.82,331.50 L96.26,331.33 L96.69,331.17 L97.13,331.01 L97.57,330.85 L98.00,330.69 L98.44,330.54 L98.88,330.39 L99.32,330.24 L99.75,330.10 L100.19,329.96 L100.63,329.82 L101.06,329.68 L101.50,329.54 L101.94,329.41 L102.37,329.28 L102.81,329.16 L103.25,329.03 L103.68,328.91 L104.12,328.79 L104.56,328.67 L104.99,328.56 L105.43,328.45 L105.87,328.34 L106.30,328.23 L106.74,328.13 L107.18,328.02 L107.61,327.92 L108.05,327.83 L108.49,327.73 L108.93,327.64 L109.36,327.55 L109.80,327.46 L110.24,327.38 L110.67,327.30 L111.11,327.22 L111.55,327.14 L111.98,327.06 L112.42,326.99 L112.86,326.92 L113.29,326.85 L113.73,326.79 L114.17,326.73 L114.60,326.67 L115.04,326.61 L115.48,326.55 L115.91,326.50 L116.35,326.45 L116.79,326.40 L117.23,326.35 L117.66,326.31 L118.10,326.27 L118.54,326.23 L118.97,326.19 L119.41,326.16 L119.85,326.12 L120.28,326.10 L120.72,326.07 L121.16,326.04 L121.59,326.02 L122.03,326.00 L122.47,325.98 L122.90,325.97 L123.34,325.95 L123.78,325.94 L124.21,325.94 L124.65,325.93 L125.09,325.93 L125.53,325.92 L125.96,325.93 L126.40,325.93 L126.84,325.94 L127.27,325.94 L127.71,325.95 L128.15,325.97 L128.58,325.98 L129.02,326.00 L129.46,326.02 L129.89,326.04 L130.33,326.07 L130.77,326.10 L131.20,326.12 L131.64,326.16 L132.08,326.19 L132.51,326.23 L132.95,326.27 L133.39,326.31 L133.82,326.35 L134.26,326.40 L134.70,326.45 L135.14,326.50 L135.57,326.55 L136.01,326.61 L136.45,326.67 L136.88,326.73 L137.32,326.79 L137.76,326.85 L138.19,326.92 L138.63,326.99 L139.07,327.06 L139.50,327.14 L139.94,327.22 L140.38,327.30 L140.81,327.38 L141.25,327.46 L141.69,327.55 L142.12,327.64 L142.56,327.73 L143.00,327.83 L143.44,327.92 L143.87,328.02 L144.31,328.13 L144.75,328.23 L145.18,328.34 L145.62,328.45 L146.06,328.56 L146.49,328.67 L146.93,328.79 L147.37,328.91 L147.80,329.03 L148.24,329.16 L148.68,329.28 L149.11,329.41 L149.55,329.54 L149.99,329.68 L150.42,329.82 L150.86,329.96 L151.30,330.10 L151.74,330.24 L152.17,330.39 L152.61,330.54 L153.05,330.69 L153.48,330.85 L153.92,331.01 L154.36,331.17 L154.79,331.33 L155.23,331.50 L155.67,331.66 L156.10,331.83 L156.54,332.01 L156.98,332.19 L157.41,332.36 L157.85,332.55 L158.29,332.73 L158.72,332.92 L159.16,333.11 L159.60,333.30 L160.03,333.50 L160.47,333.69 L160.91,333.90 L161.35,334.10 L161.78,334.31 L162.22,334.52 L162.66,334.73 L163.09,334.94 L163.53,335.16 L163.97,335.38 L164.40,335.61 L164.84,335.83 L165.28,336.06 L165.71,336.29 L166.15,336.53 L166.59,336.77 L167.02,337.01 L167.46,337.25 L167.90,337.50 L168.33,337.75 L168.77,338.00 L169.21,338.26 L169.65,338.52 L170.08,338.78 L170.52,339.05 L170.96,339.32 L171.39,339.59 L171.83,339.86 L172.27,340.14 L172.70,340.42 L173.14,340.71 L173.58,341.00 L174.01,341.29 L174.45,341.58 L174.89,341.88 L175.32,342.18 L175.76,342.48 L176.20,342.79 L176.63,343.10 L177.07,343.41 L177.51,343.73 L177.94,344.05 L178.38,344.38 L178.82,344.70 L179.26,345.04 L179.69,345.37 L180.13,345.71 L180.57,346.05 L181.00,346.40 L181.44,346.75 L181.88,347.10 L182.31,347.45 L182.75,347.81 L183.19,348.18 L183.62,348.55 L184.06,348.92 L184.50,349.29 L184.93,349.67 L185.37,350.05 L185.81,350.44 L186.24,350.83 L186.68,351.22 L187.12,351.62 L187.56,352.02 L187.99,352.43 L188.43,352.84 L188.87,353.26 L189.30,353.67 L189.74,354.10 L190.18,354.52 L190.61,354.96 L191.05,355.39 L191.49,355.83 L191.92,356.28 L192.36,356.72 L192.80,357.18 L193.23,357.63 L193.67,358.10 L194.11,358.56 L194.54,359.03 L194.98,359.51 L195.42,359.99 L195.86,360.47 L196.29,360.96 L196.73,361.46 L197.17,361.96 L197.60,362.46 L198.04,362.97 L198.48,363.49 L198.91,364.01 L199.35,364.53 L199.79,365.06 L200.22,365.59 L200.66,366.13 L201.10,366.68 L201.53,367.23 L201.97,367.79 L202.41,368.35 L202.84,368.91 L203.28,369.49 L203.72,370.06 L204.16,370.65 L204.59,371.24 L205.03,371.83 L205.47,372.43 L205.90,373.04 L206.34,373.65 L206.78,374.27 L207.21,374.90 L207.65,375.53 L208.09,376.17 L208.52,376.81 L208.96,377.46 L209.40,378.12 L209.83,378.78 L210.27,379.45 L210.71,380.13 L211.14,380.81 L211.58,381.50 L212.02,382.20 L212.45,382.91 L212.89,383.62 L213.33,384.34 L213.77,385.06 L214.20,385.79 L214.64,386.54 L215.08,387.28 L215.51,388.04 L215.95,388.80 L216.39,389.57 L216.82,390.35 L217.26,391.14 L217.70,391.94 L218.13,392.74 L218.57,393.55 L219.01,394.37 L219.44,395.20 L219.88,396.03 L220.32,396.88 L220.75,397.73 L221.19,398.60 L221.63,399.47 L222.07,400.35 L222.50,401.24 L222.94,402.14 L223.38,403.05 L223.81,403.97 L224.25,404.89 L224.69,405.83 L225.12,406.78 L225.56,407.73 L226.00,408.70 L226.43,409.67 L226.87,410.66 L227.31,411.66 L227.74,412.66 L228.18,413.68 L228.62,414.71 L229.05,415.74 L229.49,416.79 L229.93,417.85 L230.37,418.92 L230.80,419.99 L231.24,421.08 L231.68,422.18 L232.11,423.29 L232.55,424.41 L232.99,425.54 L233.42,426.68 L233.86,427.83 L234.30,429.00 L234.73,430.17 L235.17,431.35 L235.61,432.54 L236.04,433.74 L236.48,434.95 L236.92,436.16 L237.35,437.39 L237.79,438.62 L238.23,439.87 L238.66,441.11 L239.10,442.37 L239.54,443.63 L239.98,444.90 L240.41,446.17 L240.85,447.44 L241.29,448.72 L241.72,450.00 L242.16,451.28 L242.60,452.56 L243.03,453.84 L243.47,455.12 L243.91,456.39 L244.34,457.65 L244.78,458.91 L245.22,460.16 L245.65,461.39 L246.09,462.61 L246.53,463.82 L246.96,465.00 L247.40,466.17 L247.84,467.31 L248.28,468.42 L248.71,469.50 L249.15,470.55 L249.59,471.57 L250.02,472.54 L250.46,473.47 L250.90,474.36 L251.33,475.20 L251.77,475.98 L252.21,476.71 L252.64,477.38 L253.08,477.99 L253.52,478.53 L253.95,479.01 L254.39,479.42 L254.83,479.76 L255.26,480.02 L255.70,480.21 L256.14,480.32 L256.58,480.36 L257.01,480.32 L257.45,480.21 L257.89,480.02 L258.32,479.76 L258.76,479.42 L259.20,479.01 L259.63,478.53 L260.07,477.99 L260.51,477.38 L260.94,476.71 L261.38,475.98 L261.82,475.20 L262.25,474.36 L262.69,473.47 L263.13,472.54 L263.56,471.57 L264.00,470.55 L264.44,469.50 L264.87,468.42 L265.31,467.31 L265.75,466.17 L266.19,465.00 L266.62,463.82 L267.06,462.61 L267.50,461.39 L267.93,460.16 L268.37,458.91 L268.81,457.65 L269.24,456.39 L269.68,455.12 L270.12,453.84 L270.55,452.56 L270.99,451.28 L271.43,450.00 L271.86,448.72 L272.30,447.44 L272.74,446.17 L273.17,444.90 L273.61,443.63 L274.05,442.37 L274.49,441.11 L274.92,439.87 L275.36,438.62 L275.80,437.39 L276.23,436.16 L276.67,434.95 L277.11,433.74 L277.54,432.54 L277.98,431.35 L278.42,430.17 L278.85,429.00 L279.29,427.83 L279.73,426.68 L280.16,425.54 L280.60,424.41 L281.04,423.29 L281.47,422.18 L281.91,421.08 L282.35,419.99 L282.79,418.92 L283.22,417.85 L283.66,416.79 L284.10,415.74 L284.53,414.71 L284.97,413.68 L285.41,412.66 L285.84,411.66 L286.28,410.66 L286.72,409.67 L287.15,408.70 L287.59,407.73 L288.03,406.78 L288.46,405.83 L288.90,404.89 L289.34,403.97 L289.77,403.05 L290.21,402.14 L290.65,401.24 L291.08,400.35 L291.52,399.47 L291.96,398.60 L292.40,397.73 L292.83,396.88 L293.27,396.03 L293.71,395.20 L294.14,394.37 L294.58,393.55 L295.02,392.74 L295.45,391.94 L295.89,391.14 L296.33,390.35 L296.76,389.57 L297.20,388.80 L297.64,388.04 L298.07,387.28 L298.51,386.54 L298.95,385.79 L299.38,385.06 L299.82,384.34 L300.26,383.62 L300.70,382.91 L301.13,382.20 L301.57,381.50 L302.01,380.81 L302.44,380.13 L302.88,379.45 L303.32,378.78 L303.75,378.12 L304.19,377.46 L304.63,376.81 L305.06,376.17 L305.50,375.53 L305.94,374.90 L306.37,374.27 L306.81,373.65 L307.25,373.04 L307.68,372.43 L308.12,371.83 L308.56,371.24 L309.00,370.65 L309.43,370.06 L309.87,369.49 L310.31,368.91 L310.74,368.35 L311.18,367.79 L311.62,367.23 L312.05,366.68 L312.49,366.13 L312.93,365.59 L313.36,365.06 L313.80,364.53 L314.24,364.01 L314.67,363.49 L315.11,362.97 L315.55,362.46 L315.98,361.96 L316.42,361.46 L316.86,360.96 L317.29,360.47 L317.73,359.99 L318.17,359.51 L318.61,359.03 L319.04,358.56 L319.48,358.10 L319.92,357.63 L320.35,357.18 L320.79,356.72 L321.23,356.28 L321.66,355.83 L322.10,355.39" fill="none" stroke="#f2f23c" stroke-width="1.9" clip-path="url(#cb)"/>
<path d="M60.00,317.94 L60.44,317.48 L60.87,317.03 L61.31,316.58 L61.75,316.14 L62.18,315.70 L62.62,315.26 L63.06,314.83 L63.49,314.41 L63.93,313.98 L64.37,313.57 L64.81,313.15 L65.24,312.75 L65.68,312.34 L66.12,311.94 L66.55,311.55 L66.99,311.15 L67.43,310.77 L67.86,310.38 L68.30,310.00 L68.74,309.63 L69.17,309.26 L69.61,308.89 L70.05,308.53 L70.48,308.17 L70.92,307.81 L71.36,307.46 L71.79,307.11 L72.23,306.77 L72.67,306.42 L73.11,306.09 L73.54,305.75 L73.98,305.42 L74.42,305.10 L74.85,304.78 L75.29,304.46 L75.73,304.14 L76.16,303.83 L76.60,303.52 L77.04,303.22 L77.47,302.91 L77.91,302.62 L78.35,302.32 L78.78,302.03 L79.22,301.74 L79.66,301.46 L80.09,301.18 L80.53,300.90 L80.97,300.62 L81.40,300.35 L81.84,300.08 L82.28,299.82 L82.72,299.56 L83.15,299.30 L83.59,299.04 L84.03,298.79 L84.46,298.54 L84.90,298.29 L85.34,298.05 L85.77,297.81 L86.21,297.57 L86.65,297.34 L87.08,297.11 L87.52,296.88 L87.96,296.65 L88.39,296.43 L88.83,296.21 L89.27,296.00 L89.70,295.78 L90.14,295.57 L90.58,295.37 L91.02,295.16 L91.45,294.96 L91.89,294.76 L92.33,294.57 L92.76,294.37 L93.20,294.18 L93.64,294.00 L94.07,293.81 L94.51,293.63 L94.95,293.45 L95.38,293.27 L95.82,293.10 L96.26,292.93 L96.69,292.76 L97.13,292.60 L97.57,292.43 L98.00,292.27 L98.44,292.12 L98.88,291.96 L99.32,291.81 L99.75,291.66 L100.19,291.52 L100.63,291.37 L101.06,291.23 L101.50,291.09 L101.94,290.96 L102.37,290.82 L102.81,290.69 L103.25,290.57 L103.68,290.44 L104.12,290.32 L104.56,290.20 L104.99,290.08 L105.43,289.97 L105.87,289.85 L106.30,289.74 L106.74,289.64 L107.18,289.53 L107.61,289.43 L108.05,289.33 L108.49,289.23 L108.93,289.14 L109.36,289.05 L109.80,288.96 L110.24,288.87 L110.67,288.78 L111.11,288.70 L111.55,288.62 L111.98,288.55 L112.42,288.47 L112.86,288.40 L113.29,288.33 L113.73,288.26 L114.17,288.20 L114.60,288.14 L115.04,288.08 L115.48,288.02 L115.91,287.96 L116.35,287.91 L116.79,287.86 L117.23,287.81 L117.66,287.77 L118.10,287.73 L118.54,287.69 L118.97,287.65 L119.41,287.61 L119.85,287.58 L120.28,287.55 L120.72,287.52 L121.16,287.50 L121.59,287.47 L122.03,287.45 L122.47,287.44 L122.90,287.42 L123.34,287.41 L123.78,287.40 L124.21,287.39 L124.65,287.38 L125.09,287.38 L125.53,287.38 L125.96,287.38 L126.40,287.38 L126.84,287.39 L127.27,287.40 L127.71,287.41 L128.15,287.42 L128.58,287.44 L129.02,287.45 L129.46,287.47 L129.89,287.50 L130.33,287.52 L130.77,287.55 L131.20,287.58 L131.64,287.61 L132.08,287.65 L132.51,287.69 L132.95,287.73 L133.39,287.77 L133.82,287.81 L134.26,287.86 L134.70,287.91 L135.14,287.96 L135.57,288.02 L136.01,288.08 L136.45,288.14 L136.88,288.20 L137.32,288.26 L137.76,288.33 L138.19,288.40 L138.63,288.47 L139.07,288.55 L139.50,288.62 L139.94,288.70 L140.38,288.78 L140.81,288.87 L141.25,288.96 L141.69,289.05 L142.12,289.14 L142.56,289.23 L143.00,289.33 L143.44,289.43 L143.87,289.53 L144.31,289.64 L144.75,289.74 L145.18,289.85 L145.62,289.97 L146.06,290.08 L146.49,290.20 L146.93,290.32 L147.37,290.44 L147.80,290.57 L148.24,290.69 L148.68,290.82 L149.11,290.96 L149.55,291.09 L149.99,291.23 L150.42,291.37 L150.86,291.52 L151.30,291.66 L151.74,291.81 L152.17,291.96 L152.61,292.12 L153.05,292.27 L153.48,292.43 L153.92,292.60 L154.36,292.76 L154.79,292.93 L155.23,293.10 L155.67,293.27 L156.10,293.45 L156.54,293.63 L156.98,293.81 L157.41,294.00 L157.85,294.18 L158.29,294.37 L158.72,294.57 L159.16,294.76 L159.60,294.96 L160.03,295.16 L160.47,295.37 L160.91,295.57 L161.35,295.78 L161.78,296.00 L162.22,296.21 L162.66,296.43 L163.09,296.65 L163.53,296.88 L163.97,297.11 L164.40,297.34 L164.84,297.57 L165.28,297.81 L165.71,298.05 L166.15,298.29 L166.59,298.54 L167.02,298.79 L167.46,299.04 L167.90,299.30 L168.33,299.56 L168.77,299.82 L169.21,300.08 L169.65,300.35 L170.08,300.62 L170.52,300.90 L170.96,301.18 L171.39,301.46 L171.83,301.74 L172.27,302.03 L172.70,302.32 L173.14,302.62 L173.58,302.91 L174.01,303.22 L174.45,303.52 L174.89,303.83 L175.32,304.14 L175.76,304.46 L176.20,304.78 L176.63,305.10 L177.07,305.42 L177.51,305.75 L177.94,306.09 L178.38,306.42 L178.82,306.77 L179.26,307.11 L179.69,307.46 L180.13,307.81 L180.57,308.17 L181.00,308.53 L181.44,308.89 L181.88,309.26 L182.31,309.63 L182.75,310.00 L183.19,310.38 L183.62,310.77 L184.06,311.15 L184.50,311.55 L184.93,311.94 L185.37,312.34 L185.81,312.75 L186.24,313.15 L186.68,313.57 L187.12,313.98 L187.56,314.41 L187.99,314.83 L188.43,315.26 L188.87,315.70 L189.30,316.14 L189.74,316.58 L190.18,317.03 L190.61,317.48 L191.05,317.94 L191.49,318.40 L191.92,318.87 L192.36,319.34 L192.80,319.82 L193.23,320.30 L193.67,320.79 L194.11,321.28 L194.54,321.78 L194.98,322.28 L195.42,322.79 L195.86,323.30 L196.29,323.82 L196.73,324.34 L197.17,324.87 L197.60,325.41 L198.04,325.95 L198.48,326.49 L198.91,327.04 L199.35,327.60 L199.79,328.17 L200.22,328.74 L200.66,329.31 L201.10,329.89 L201.53,330.48 L201.97,331.08 L202.41,331.68 L202.84,332.28 L203.28,332.90 L203.72,333.52 L204.16,334.14 L204.59,334.78 L205.03,335.42 L205.47,336.06 L205.90,336.72 L206.34,337.38 L206.78,338.05 L207.21,338.72 L207.65,339.41 L208.09,340.10 L208.52,340.80 L208.96,341.51 L209.40,342.22 L209.83,342.94 L210.27,343.67 L210.71,344.41 L211.14,345.16 L211.58,345.92 L212.02,346.68 L212.45,347.46 L212.89,348.24 L213.33,349.03 L213.77,349.84 L214.20,350.65 L214.64,351.47 L215.08,352.30 L215.51,353.14 L215.95,353.99 L216.39,354.85 L216.82,355.72 L217.26,356.61 L217.70,357.50 L218.13,358.41 L218.57,359.32 L219.01,360.25 L219.44,361.19 L219.88,362.14 L220.32,363.11 L220.75,364.08 L221.19,365.07 L221.63,366.08 L222.07,367.09 L222.50,368.12 L222.94,369.17 L223.38,370.22 L223.81,371.30 L224.25,372.38 L224.69,373.49 L225.12,374.61 L225.56,375.74 L226.00,376.89 L226.43,378.06 L226.87,379.24 L227.31,380.45 L227.74,381.67 L228.18,382.91 L228.62,384.16 L229.05,385.44 L229.49,386.74 L229.93,388.05 L230.37,389.39 L230.80,390.75 L231.24,392.13 L231.68,393.54 L232.11,394.97 L232.55,396.42 L232.99,397.89 L233.42,399.40 L233.86,400.92 L234.30,402.48 L234.73,404.06 L235.17,405.67 L235.61,407.31 L236.04,408.98 L236.48,410.68 L236.92,412.41 L237.35,414.17 L237.79,415.97 L238.23,417.80 L238.66,419.67 L239.10,421.58 L239.54,423.52 L239.98,425.51 L240.41,427.53 L240.85,429.60 L241.29,431.70 L241.72,433.85 L242.16,436.05 L242.60,438.29 L243.03,440.58 L243.47,442.92 L243.91,445.31 L244.34,447.75 L244.78,450.24 L245.22,452.78 L245.65,455.37 L246.09,458.02 L246.53,460.71 L246.96,463.46 L247.40,466.25 L247.84,469.10 L248.28,471.98 L248.71,474.90 L249.15,477.86 L249.59,480.84 L250.02,483.84 L250.46,486.84 L250.90,489.83 L251.33,492.80 L251.77,495.71 L252.21,498.55 L252.64,501.29 L253.08,503.89 L253.52,506.31 L253.95,508.53 L254.39,510.50 L254.83,512.18 L255.26,513.53 L255.70,514.52 L256.14,515.12 L256.58,515.33 L257.01,515.12 L257.45,514.52 L257.89,513.53 L258.32,512.18 L258.76,510.50 L259.20,508.53 L259.63,506.31 L260.07,503.89 L260.51,501.29 L260.94,498.55 L261.38,495.71 L261.82,492.80 L262.25,489.83 L262.69,486.84 L263.13,483.84 L263.56,480.84 L264.00,477.86 L264.44,474.90 L264.87,471.98 L265.31,469.10 L265.75,466.25 L266.19,463.46 L266.62,460.71 L267.06,458.02 L267.50,455.37 L267.93,452.78 L268.37,450.24 L268.81,447.75 L269.24,445.31 L269.68,442.92 L270.12,440.58 L270.55,438.29 L270.99,436.05 L271.43,433.85 L271.86,431.70 L272.30,429.60 L272.74,427.53 L273.17,425.51 L273.61,423.52 L274.05,421.58 L274.49,419.67 L274.92,417.80 L275.36,415.97 L275.80,414.17 L276.23,412.41 L276.67,410.68 L277.11,408.98 L277.54,407.31 L277.98,405.67 L278.42,404.06 L278.85,402.48 L279.29,400.92 L279.73,399.40 L280.16,397.89 L280.60,396.42 L281.04,394.97 L281.47,393.54 L281.91,392.13 L282.35,390.75 L282.79,389.39 L283.22,388.05 L283.66,386.74 L284.10,385.44 L284.53,384.16 L284.97,382.91 L285.41,381.67 L285.84,380.45 L286.28,379.24 L286.72,378.06 L287.15,376.89 L287.59,375.74 L288.03,374.61 L288.46,373.49 L288.90,372.38 L289.34,371.30 L289.77,370.22 L290.21,369.17 L290.65,368.12 L291.08,367.09 L291.52,366.08 L291.96,365.07 L292.40,364.08 L292.83,363.11 L293.27,362.14 L293.71,361.19 L294.14,360.25 L294.58,359.32 L295.02,358.41 L295.45,357.50 L295.89,356.61 L296.33,355.72 L296.76,354.85 L297.20,353.99 L297.64,353.14 L298.07,352.30 L298.51,351.47 L298.95,350.65 L299.38,349.84 L299.82,349.03 L300.26,348.24 L300.70,347.46 L301.13,346.68 L301.57,345.92 L302.01,345.16 L302.44,344.41 L302.88,343.67 L303.32,342.94 L303.75,342.22 L304.19,341.51 L304.63,340.80 L305.06,340.10 L305.50,339.41 L305.94,338.72 L306.37,338.05 L306.81,337.38 L307.25,336.72 L307.68,336.06 L308.12,335.42 L308.56,334.78 L309.00,334.14 L309.43,333.52 L309.87,332.90 L310.31,332.28 L310.74,331.68 L311.18,331.08 L311.62,330.48 L312.05,329.89 L312.49,329.31 L312.93,328.74 L313.36,328.17 L313.80,327.60 L314.24,327.04 L314.67,326.49 L315.11,325.95 L315.55,325.41 L315.98,324.87 L316.42,324.34 L316.86,323.82 L317.29,323.30 L317.73,322.79 L318.17,322.28 L318.61,321.78 L319.04,321.28 L319.48,320.79 L319.92,320.30 L320.35,319.82 L320.79,319.34 L321.23,318.87 L321.66,318.40 L322.10,317.94" fill="none" stroke="#e0202a" stroke-width="1.9" clip-path="url(#cb)"/>
<path d="M60.0,516.42h4.6 M322.1,516.42h-4.6 M60.0,511.19h4.6 M322.1,511.19h-4.6 M60.0,506.50h8.5 M322.1,506.50h-8.5 M60.0,475.67h4.6 M322.1,475.67h-4.6 M60.0,457.64h4.6 M322.1,457.64h-4.6 M60.0,444.85h4.6 M322.1,444.85h-4.6 M60.0,434.93h4.6 M322.1,434.93h-4.6 M60.0,426.82h4.6 M322.1,426.82h-4.6 M60.0,419.96h4.6 M322.1,419.96h-4.6 M60.0,414.02h4.6 M322.1,414.02h-4.6 M60.0,408.79h4.6 M322.1,408.79h-4.6 M60.0,404.10h8.5 M322.1,404.10h-8.5 M60.0,373.27h4.6 M322.1,373.27h-4.6 M60.0,355.24h4.6 M322.1,355.24h-4.6 M60.0,342.45h4.6 M322.1,342.45h-4.6 M60.0,332.53h4.6 M322.1,332.53h-4.6 M60.0,324.42h4.6 M322.1,324.42h-4.6 M60.0,317.56h4.6 M322.1,317.56h-4.6 M60.0,311.62h4.6 M322.1,311.62h-4.6 M60.0,306.39h4.6 M322.1,306.39h-4.6 M60.0,301.70h8.5 M322.1,301.70h-8.5 M60.0,270.87h4.6 M322.1,270.87h-4.6 M60.00,519.2v-5.5 M60.00,270.9v5.5 M92.76,519.2v-3.0 M92.76,270.9v3.0 M125.53,519.2v-5.5 M125.53,270.9v5.5 M158.29,519.2v-3.0 M158.29,270.9v3.0 M191.05,519.2v-5.5 M191.05,270.9v5.5 M223.81,519.2v-3.0 M223.81,270.9v3.0 M256.58,519.2v-5.5 M256.58,270.9v5.5 M289.34,519.2v-3.0 M289.34,270.9v3.0 M322.10,519.2v-5.5 M322.10,270.9v5.5" stroke="#000" stroke-width="1.6" fill="none"/>
<rect x="60.0" y="270.9" width="262.1" height="248.3" fill="none" stroke="#000" stroke-width="1.8"/>
<text transform="translate(0.2,272) scale(1.045,1)" font-family="Liberation Sans, sans-serif" font-size="23" fill="#111">(b)</text>
<text transform="translate(44.35,305.80) scale(1.15,1)" font-family="Liberation Sans, sans-serif" font-size="14.5" text-anchor="middle" fill="#111">10</text>
<text transform="translate(47.30,408.30) scale(1.15,1)" font-family="Liberation Sans, sans-serif" font-size="14.5" text-anchor="middle" fill="#111">1</text>
<text transform="translate(41.60,510.70) scale(1.15,1)" font-family="Liberation Sans, sans-serif" font-size="14.5" text-anchor="middle" fill="#111">0.1</text>
<text transform="translate(59.90,539.20) scale(1.15,1)" font-family="Liberation Sans, sans-serif" font-size="14.5" text-anchor="middle" fill="#111">-1.0</text>
<text transform="translate(125.20,539.20) scale(1.15,1)" font-family="Liberation Sans, sans-serif" font-size="14.5" text-anchor="middle" fill="#111">-0.5</text>
<text transform="translate(191.35,539.20) scale(1.15,1)" font-family="Liberation Sans, sans-serif" font-size="14.5" text-anchor="middle" fill="#111">0.0</text>
<text transform="translate(257.00,539.20) scale(1.15,1)" font-family="Liberation Sans, sans-serif" font-size="14.5" text-anchor="middle" fill="#111">0.5</text>
<text transform="translate(322.50,539.20) scale(1.15,1)" font-family="Liberation Sans, sans-serif" font-size="14.5" text-anchor="middle" fill="#111">1.0</text>
<text x="94.0" y="566.2" font-family="Liberation Sans, sans-serif" font-size="19.7" fill="#111">Phase difference</text>
<text x="248.2" y="566.2" font-family="Liberation Sans, sans-serif" font-size="19.7" fill="#111">&#916;&#966;/</text>
<text x="280.2" y="566.2" font-family="Liberation Serif, serif" font-size="20" fill="#111">&#960;</text>
<text transform="translate(25.0,466.2) rotate(-90)" x="0" y="0" font-family="Liberation Sans, sans-serif" font-size="19.7" fill="#111">Parametric gain &#934;</text>
<line x1="416.8" y1="409.7" x2="673.7" y2="409.7" stroke="#000" stroke-width="1.7" stroke-dasharray="6,4"/>
<path d="M416.30,358.07 L416.73,357.43 L417.16,356.79 L417.59,356.16 L418.02,355.54 L418.44,354.91 L418.87,354.30 L419.30,353.69 L419.73,353.09 L420.16,352.49 L420.59,351.89 L421.02,351.31 L421.45,350.72 L421.88,350.15 L422.31,349.57 L422.74,349.01 L423.16,348.45 L423.59,347.89 L424.02,347.34 L424.45,346.79 L424.88,346.25 L425.31,345.72 L425.74,345.19 L426.17,344.66 L426.60,344.14 L427.03,343.63 L427.45,343.12 L427.88,342.61 L428.31,342.11 L428.74,341.62 L429.17,341.13 L429.60,340.64 L430.03,340.16 L430.46,339.69 L430.89,339.22 L431.31,338.75 L431.74,338.29 L432.17,337.84 L432.60,337.39 L433.03,336.94 L433.46,336.50 L433.89,336.06 L434.32,335.63 L434.75,335.20 L435.18,334.78 L435.61,334.36 L436.03,333.95 L436.46,333.54 L436.89,333.13 L437.32,332.73 L437.75,332.34 L438.18,331.95 L438.61,331.56 L439.04,331.18 L439.47,330.80 L439.90,330.43 L440.32,330.06 L440.75,329.70 L441.18,329.34 L441.61,328.98 L442.04,328.63 L442.47,328.29 L442.90,327.94 L443.33,327.61 L443.76,327.27 L444.19,326.94 L444.61,326.62 L445.04,326.30 L445.47,325.98 L445.90,325.67 L446.33,325.36 L446.76,325.06 L447.19,324.76 L447.62,324.46 L448.05,324.17 L448.48,323.88 L448.90,323.60 L449.33,323.32 L449.76,323.04 L450.19,322.77 L450.62,322.51 L451.05,322.24 L451.48,321.99 L451.91,321.73 L452.34,321.48 L452.76,321.23 L453.19,320.99 L453.62,320.75 L454.05,320.52 L454.48,320.29 L454.91,320.06 L455.34,319.84 L455.77,319.62 L456.20,319.40 L456.63,319.19 L457.06,318.99 L457.48,318.78 L457.91,318.58 L458.34,318.39 L458.77,318.20 L459.20,318.01 L459.63,317.83 L460.06,317.65 L460.49,317.47 L460.92,317.30 L461.35,317.13 L461.77,316.96 L462.20,316.80 L462.63,316.65 L463.06,316.49 L463.49,316.34 L463.92,316.20 L464.35,316.06 L464.78,315.92 L465.21,315.78 L465.63,315.65 L466.06,315.53 L466.49,315.40 L466.92,315.28 L467.35,315.17 L467.78,315.06 L468.21,314.95 L468.64,314.84 L469.07,314.74 L469.50,314.65 L469.93,314.55 L470.35,314.46 L470.78,314.38 L471.21,314.29 L471.64,314.22 L472.07,314.14 L472.50,314.07 L472.93,314.00 L473.36,313.94 L473.79,313.88 L474.22,313.82 L474.64,313.77 L475.07,313.72 L475.50,313.67 L475.93,313.63 L476.36,313.59 L476.79,313.56 L477.22,313.53 L477.65,313.50 L478.08,313.48 L478.50,313.46 L478.93,313.44 L479.36,313.43 L479.79,313.42 L480.22,313.41 L480.65,313.41 L481.08,313.41 L481.51,313.42 L481.94,313.43 L482.37,313.44 L482.80,313.46 L483.22,313.48 L483.65,313.50 L484.08,313.53 L484.51,313.56 L484.94,313.59 L485.37,313.63 L485.80,313.67 L486.23,313.72 L486.66,313.77 L487.09,313.82 L487.51,313.88 L487.94,313.94 L488.37,314.00 L488.80,314.07 L489.23,314.14 L489.66,314.22 L490.09,314.29 L490.52,314.38 L490.95,314.46 L491.38,314.55 L491.80,314.65 L492.23,314.74 L492.66,314.84 L493.09,314.95 L493.52,315.06 L493.95,315.17 L494.38,315.28 L494.81,315.40 L495.24,315.53 L495.67,315.65 L496.09,315.78 L496.52,315.92 L496.95,316.06 L497.38,316.20 L497.81,316.34 L498.24,316.49 L498.67,316.65 L499.10,316.80 L499.53,316.96 L499.96,317.13 L500.38,317.30 L500.81,317.47 L501.24,317.65 L501.67,317.83 L502.10,318.01 L502.53,318.20 L502.96,318.39 L503.39,318.58 L503.82,318.78 L504.25,318.99 L504.67,319.19 L505.10,319.40 L505.53,319.62 L505.96,319.84 L506.39,320.06 L506.82,320.29 L507.25,320.52 L507.68,320.75 L508.11,320.99 L508.54,321.23 L508.96,321.48 L509.39,321.73 L509.82,321.99 L510.25,322.24 L510.68,322.51 L511.11,322.77 L511.54,323.04 L511.97,323.32 L512.40,323.60 L512.83,323.88 L513.25,324.17 L513.68,324.46 L514.11,324.76 L514.54,325.06 L514.97,325.36 L515.40,325.67 L515.83,325.98 L516.26,326.30 L516.69,326.62 L517.12,326.94 L517.54,327.27 L517.97,327.61 L518.40,327.94 L518.83,328.29 L519.26,328.63 L519.69,328.98 L520.12,329.34 L520.55,329.70 L520.98,330.06 L521.40,330.43 L521.83,330.80 L522.26,331.18 L522.69,331.56 L523.12,331.95 L523.55,332.34 L523.98,332.73 L524.41,333.13 L524.84,333.54 L525.27,333.95 L525.70,334.36 L526.12,334.78 L526.55,335.20 L526.98,335.63 L527.41,336.06 L527.84,336.50 L528.27,336.94 L528.70,337.39 L529.13,337.84 L529.56,338.29 L529.99,338.75 L530.41,339.22 L530.84,339.69 L531.27,340.16 L531.70,340.64 L532.13,341.13 L532.56,341.62 L532.99,342.11 L533.42,342.61 L533.85,343.12 L534.27,343.63 L534.70,344.14 L535.13,344.66 L535.56,345.19 L535.99,345.72 L536.42,346.25 L536.85,346.79 L537.28,347.34 L537.71,347.89 L538.14,348.45 L538.57,349.01 L538.99,349.57 L539.42,350.15 L539.85,350.72 L540.28,351.31 L540.71,351.89 L541.14,352.49 L541.57,353.09 L542.00,353.69 L542.43,354.30 L542.86,354.91 L543.28,355.54 L543.71,356.16 L544.14,356.79 L544.57,357.43 L545.00,358.07 L545.43,358.72 L545.86,359.38 L546.29,360.04 L546.72,360.70 L547.14,361.38 L547.57,362.05 L548.00,362.74 L548.43,363.43 L548.86,364.12 L549.29,364.82 L549.72,365.53 L550.15,366.24 L550.58,366.96 L551.01,367.68 L551.44,368.42 L551.86,369.15 L552.29,369.90 L552.72,370.64 L553.15,371.40 L553.58,372.16 L554.01,372.93 L554.44,373.70 L554.87,374.48 L555.30,375.27 L555.73,376.06 L556.15,376.86 L556.58,377.66 L557.01,378.48 L557.44,379.29 L557.87,380.12 L558.30,380.95 L558.73,381.78 L559.16,382.63 L559.59,383.48 L560.02,384.33 L560.44,385.19 L560.87,386.06 L561.30,386.94 L561.73,387.82 L562.16,388.71 L562.59,389.60 L563.02,390.50 L563.45,391.41 L563.88,392.33 L564.31,393.25 L564.73,394.17 L565.16,395.11 L565.59,396.05 L566.02,396.99 L566.45,397.94 L566.88,398.90 L567.31,399.87 L567.74,400.84 L568.17,401.82 L568.60,402.80 L569.02,403.79 L569.45,404.79 L569.88,405.79 L570.31,406.80 L570.74,407.81 L571.17,408.83 L571.60,409.86 L572.03,410.89 L572.46,411.93 L572.88,412.98 L573.31,414.03 L573.74,415.08 L574.17,416.14 L574.60,417.21 L575.03,418.28 L575.46,419.36 L575.89,420.44 L576.32,421.52 L576.75,422.61 L577.18,423.71 L577.60,424.81 L578.03,425.91 L578.46,427.02 L578.89,428.13 L579.32,429.25 L579.75,430.37 L580.18,431.49 L580.61,432.62 L581.04,433.75 L581.47,434.88 L581.89,436.01 L582.32,437.14 L582.75,438.28 L583.18,439.42 L583.61,440.56 L584.04,441.70 L584.47,442.84 L584.90,443.98 L585.33,445.12 L585.75,446.25 L586.18,447.39 L586.61,448.53 L587.04,449.66 L587.47,450.79 L587.90,451.91 L588.33,453.04 L588.76,454.16 L589.19,455.27 L589.62,456.38 L590.05,457.48 L590.47,458.57 L590.90,459.66 L591.33,460.74 L591.76,461.81 L592.19,462.87 L592.62,463.93 L593.05,464.97 L593.48,465.99 L593.91,467.01 L594.34,468.01 L594.76,469.00 L595.19,469.97 L595.62,470.93 L596.05,471.87 L596.48,472.79 L596.91,473.70 L597.34,474.58 L597.77,475.45 L598.20,476.29 L598.62,477.11 L599.05,477.91 L599.48,478.69 L599.91,479.43 L600.34,480.16 L600.77,480.85 L601.20,481.52 L601.63,482.16 L602.06,482.78 L602.49,483.36 L602.91,483.91 L603.34,484.43 L603.77,484.91 L604.20,485.37 L604.63,485.79 L605.06,486.17 L605.49,486.52 L605.92,486.84 L606.35,487.12 L606.78,487.36 L607.21,487.57 L607.63,487.73 L608.06,487.87 L608.49,487.96 L608.92,488.02 L609.35,488.04 L609.78,488.02 L610.21,487.96 L610.64,487.87 L611.07,487.73 L611.50,487.57 L611.92,487.36 L612.35,487.12 L612.78,486.84 L613.21,486.52 L613.64,486.17 L614.07,485.79 L614.50,485.37 L614.93,484.91 L615.36,484.43 L615.79,483.91 L616.21,483.36 L616.64,482.78 L617.07,482.16 L617.50,481.52 L617.93,480.85 L618.36,480.16 L618.79,479.43 L619.22,478.69 L619.65,477.91 L620.08,477.11 L620.50,476.29 L620.93,475.45 L621.36,474.58 L621.79,473.70 L622.22,472.79 L622.65,471.87 L623.08,470.93 L623.51,469.97 L623.94,469.00 L624.37,468.01 L624.79,467.01 L625.22,465.99 L625.65,464.97 L626.08,463.93 L626.51,462.87 L626.94,461.81 L627.37,460.74 L627.80,459.66 L628.23,458.57 L628.65,457.48 L629.08,456.38 L629.51,455.27 L629.94,454.16 L630.37,453.04 L630.80,451.91 L631.23,450.79 L631.66,449.66 L632.09,448.53 L632.52,447.39 L632.95,446.25 L633.37,445.12 L633.80,443.98 L634.23,442.84 L634.66,441.70 L635.09,440.56 L635.52,439.42 L635.95,438.28 L636.38,437.14 L636.81,436.01 L637.24,434.88 L637.66,433.75 L638.09,432.62 L638.52,431.49 L638.95,430.37 L639.38,429.25 L639.81,428.13 L640.24,427.02 L640.67,425.91 L641.10,424.81 L641.53,423.71 L641.95,422.61 L642.38,421.52 L642.81,420.44 L643.24,419.36 L643.67,418.28 L644.10,417.21 L644.53,416.14 L644.96,415.08 L645.39,414.03 L645.82,412.98 L646.24,411.93 L646.67,410.89 L647.10,409.86 L647.53,408.83 L647.96,407.81 L648.39,406.80 L648.82,405.79 L649.25,404.79 L649.68,403.79 L650.11,402.80 L650.53,401.82 L650.96,400.84 L651.39,399.87 L651.82,398.90 L652.25,397.94 L652.68,396.99 L653.11,396.05 L653.54,395.11 L653.97,394.17 L654.40,393.25 L654.82,392.33 L655.25,391.41 L655.68,390.50 L656.11,389.60 L656.54,388.71 L656.97,387.82 L657.40,386.94 L657.83,386.06 L658.26,385.19 L658.69,384.33 L659.11,383.48 L659.54,382.63 L659.97,381.78 L660.40,380.95 L660.83,380.12 L661.26,379.29 L661.69,378.48 L662.12,377.66 L662.55,376.86 L662.98,376.06 L663.40,375.27 L663.83,374.48 L664.26,373.70 L664.69,372.93 L665.12,372.16 L665.55,371.40 L665.98,370.64 L666.41,369.90 L666.84,369.15 L667.27,368.42 L667.69,367.68 L668.12,366.96 L668.55,366.24 L668.98,365.53 L669.41,364.82 L669.84,364.12 L670.27,363.43 L670.70,362.74 L671.13,362.05 L671.56,361.38 L671.98,360.70 L672.41,360.04 L672.84,359.38 L673.27,358.72 L673.70,358.07" fill="none" stroke="#e02020" stroke-width="1.9" clip-path="url(#cc)"/>
<path d="M416.30,381.51 L416.73,380.96 L417.16,380.42 L417.59,379.88 L418.02,379.34 L418.44,378.81 L418.87,378.28 L419.30,377.76 L419.73,377.24 L420.16,376.72 L420.59,376.21 L421.02,375.70 L421.45,375.20 L421.88,374.70 L422.31,374.20 L422.74,373.71 L423.16,373.22 L423.59,372.73 L424.02,372.25 L424.45,371.77 L424.88,371.30 L425.31,370.83 L425.74,370.37 L426.17,369.90 L426.60,369.45 L427.03,368.99 L427.45,368.54 L427.88,368.10 L428.31,367.66 L428.74,367.22 L429.17,366.78 L429.60,366.35 L430.03,365.93 L430.46,365.50 L430.89,365.09 L431.31,364.67 L431.74,364.26 L432.17,363.85 L432.60,363.45 L433.03,363.05 L433.46,362.66 L433.89,362.26 L434.32,361.88 L434.75,361.49 L435.18,361.11 L435.61,360.74 L436.03,360.36 L436.46,359.99 L436.89,359.63 L437.32,359.27 L437.75,358.91 L438.18,358.56 L438.61,358.21 L439.04,357.86 L439.47,357.52 L439.90,357.18 L440.32,356.85 L440.75,356.52 L441.18,356.19 L441.61,355.86 L442.04,355.54 L442.47,355.23 L442.90,354.92 L443.33,354.61 L443.76,354.30 L444.19,354.00 L444.61,353.70 L445.04,353.41 L445.47,353.12 L445.90,352.83 L446.33,352.55 L446.76,352.27 L447.19,352.00 L447.62,351.72 L448.05,351.46 L448.48,351.19 L448.90,350.93 L449.33,350.67 L449.76,350.42 L450.19,350.17 L450.62,349.92 L451.05,349.68 L451.48,349.44 L451.91,349.21 L452.34,348.98 L452.76,348.75 L453.19,348.52 L453.62,348.30 L454.05,348.08 L454.48,347.87 L454.91,347.66 L455.34,347.45 L455.77,347.25 L456.20,347.05 L456.63,346.85 L457.06,346.66 L457.48,346.47 L457.91,346.29 L458.34,346.10 L458.77,345.93 L459.20,345.75 L459.63,345.58 L460.06,345.41 L460.49,345.25 L460.92,345.09 L461.35,344.93 L461.77,344.78 L462.20,344.63 L462.63,344.48 L463.06,344.34 L463.49,344.20 L463.92,344.06 L464.35,343.93 L464.78,343.80 L465.21,343.67 L465.63,343.55 L466.06,343.43 L466.49,343.32 L466.92,343.20 L467.35,343.10 L467.78,342.99 L468.21,342.89 L468.64,342.79 L469.07,342.70 L469.50,342.61 L469.93,342.52 L470.35,342.43 L470.78,342.35 L471.21,342.28 L471.64,342.20 L472.07,342.13 L472.50,342.06 L472.93,342.00 L473.36,341.94 L473.79,341.88 L474.22,341.83 L474.64,341.78 L475.07,341.73 L475.50,341.69 L475.93,341.65 L476.36,341.62 L476.79,341.58 L477.22,341.55 L477.65,341.53 L478.08,341.51 L478.50,341.49 L478.93,341.47 L479.36,341.46 L479.79,341.45 L480.22,341.45 L480.65,341.44 L481.08,341.45 L481.51,341.45 L481.94,341.46 L482.37,341.47 L482.80,341.49 L483.22,341.51 L483.65,341.53 L484.08,341.55 L484.51,341.58 L484.94,341.62 L485.37,341.65 L485.80,341.69 L486.23,341.73 L486.66,341.78 L487.09,341.83 L487.51,341.88 L487.94,341.94 L488.37,342.00 L488.80,342.06 L489.23,342.13 L489.66,342.20 L490.09,342.28 L490.52,342.35 L490.95,342.43 L491.38,342.52 L491.80,342.61 L492.23,342.70 L492.66,342.79 L493.09,342.89 L493.52,342.99 L493.95,343.10 L494.38,343.20 L494.81,343.32 L495.24,343.43 L495.67,343.55 L496.09,343.67 L496.52,343.80 L496.95,343.93 L497.38,344.06 L497.81,344.20 L498.24,344.34 L498.67,344.48 L499.10,344.63 L499.53,344.78 L499.96,344.93 L500.38,345.09 L500.81,345.25 L501.24,345.41 L501.67,345.58 L502.10,345.75 L502.53,345.93 L502.96,346.10 L503.39,346.29 L503.82,346.47 L504.25,346.66 L504.67,346.85 L505.10,347.05 L505.53,347.25 L505.96,347.45 L506.39,347.66 L506.82,347.87 L507.25,348.08 L507.68,348.30 L508.11,348.52 L508.54,348.75 L508.96,348.98 L509.39,349.21 L509.82,349.44 L510.25,349.68 L510.68,349.92 L511.11,350.17 L511.54,350.42 L511.97,350.67 L512.40,350.93 L512.83,351.19 L513.25,351.46 L513.68,351.72 L514.11,352.00 L514.54,352.27 L514.97,352.55 L515.40,352.83 L515.83,353.12 L516.26,353.41 L516.69,353.70 L517.12,354.00 L517.54,354.30 L517.97,354.61 L518.40,354.92 L518.83,355.23 L519.26,355.54 L519.69,355.86 L520.12,356.19 L520.55,356.52 L520.98,356.85 L521.40,357.18 L521.83,357.52 L522.26,357.86 L522.69,358.21 L523.12,358.56 L523.55,358.91 L523.98,359.27 L524.41,359.63 L524.84,359.99 L525.27,360.36 L525.70,360.74 L526.12,361.11 L526.55,361.49 L526.98,361.88 L527.41,362.26 L527.84,362.66 L528.27,363.05 L528.70,363.45 L529.13,363.85 L529.56,364.26 L529.99,364.67 L530.41,365.09 L530.84,365.50 L531.27,365.93 L531.70,366.35 L532.13,366.78 L532.56,367.22 L532.99,367.66 L533.42,368.10 L533.85,368.54 L534.27,368.99 L534.70,369.45 L535.13,369.90 L535.56,370.37 L535.99,370.83 L536.42,371.30 L536.85,371.77 L537.28,372.25 L537.71,372.73 L538.14,373.22 L538.57,373.71 L538.99,374.20 L539.42,374.70 L539.85,375.20 L540.28,375.70 L540.71,376.21 L541.14,376.72 L541.57,377.24 L542.00,377.76 L542.43,378.28 L542.86,378.81 L543.28,379.34 L543.71,379.88 L544.14,380.42 L544.57,380.96 L545.00,381.51 L545.43,382.06 L545.86,382.62 L546.29,383.18 L546.72,383.74 L547.14,384.31 L547.57,384.88 L548.00,385.46 L548.43,386.03 L548.86,386.62 L549.29,387.20 L549.72,387.79 L550.15,388.39 L550.58,388.99 L551.01,389.59 L551.44,390.19 L551.86,390.80 L552.29,391.42 L552.72,392.03 L553.15,392.65 L553.58,393.28 L554.01,393.91 L554.44,394.54 L554.87,395.17 L555.30,395.81 L555.73,396.46 L556.15,397.10 L556.58,397.75 L557.01,398.40 L557.44,399.06 L557.87,399.72 L558.30,400.39 L558.73,401.05 L559.16,401.72 L559.59,402.40 L560.02,403.07 L560.44,403.75 L560.87,404.44 L561.30,405.12 L561.73,405.81 L562.16,406.50 L562.59,407.20 L563.02,407.90 L563.45,408.60 L563.88,409.30 L564.31,410.01 L564.73,410.72 L565.16,411.43 L565.59,412.15 L566.02,412.86 L566.45,413.58 L566.88,414.31 L567.31,415.03 L567.74,415.76 L568.17,416.49 L568.60,417.22 L569.02,417.95 L569.45,418.68 L569.88,419.42 L570.31,420.16 L570.74,420.90 L571.17,421.64 L571.60,422.38 L572.03,423.13 L572.46,423.87 L572.88,424.62 L573.31,425.36 L573.74,426.11 L574.17,426.86 L574.60,427.61 L575.03,428.36 L575.46,429.10 L575.89,429.85 L576.32,430.60 L576.75,431.35 L577.18,432.10 L577.60,432.85 L578.03,433.59 L578.46,434.34 L578.89,435.08 L579.32,435.83 L579.75,436.57 L580.18,437.31 L580.61,438.05 L581.04,438.78 L581.47,439.52 L581.89,440.25 L582.32,440.98 L582.75,441.70 L583.18,442.43 L583.61,443.15 L584.04,443.86 L584.47,444.57 L584.90,445.28 L585.33,445.98 L585.75,446.68 L586.18,447.37 L586.61,448.06 L587.04,448.75 L587.47,449.42 L587.90,450.09 L588.33,450.76 L588.76,451.41 L589.19,452.07 L589.62,452.71 L590.05,453.34 L590.47,453.97 L590.90,454.59 L591.33,455.20 L591.76,455.81 L592.19,456.40 L592.62,456.99 L593.05,457.56 L593.48,458.13 L593.91,458.68 L594.34,459.22 L594.76,459.76 L595.19,460.28 L595.62,460.79 L596.05,461.29 L596.48,461.77 L596.91,462.25 L597.34,462.71 L597.77,463.15 L598.20,463.59 L598.62,464.01 L599.05,464.42 L599.48,464.81 L599.91,465.19 L600.34,465.55 L600.77,465.90 L601.20,466.23 L601.63,466.55 L602.06,466.85 L602.49,467.14 L602.91,467.40 L603.34,467.66 L603.77,467.89 L604.20,468.11 L604.63,468.32 L605.06,468.50 L605.49,468.67 L605.92,468.82 L606.35,468.96 L606.78,469.07 L607.21,469.17 L607.63,469.25 L608.06,469.31 L608.49,469.36 L608.92,469.38 L609.35,469.39 L609.78,469.38 L610.21,469.36 L610.64,469.31 L611.07,469.25 L611.50,469.17 L611.92,469.07 L612.35,468.96 L612.78,468.82 L613.21,468.67 L613.64,468.50 L614.07,468.32 L614.50,468.11 L614.93,467.89 L615.36,467.66 L615.79,467.40 L616.21,467.14 L616.64,466.85 L617.07,466.55 L617.50,466.23 L617.93,465.90 L618.36,465.55 L618.79,465.19 L619.22,464.81 L619.65,464.42 L620.08,464.01 L620.50,463.59 L620.93,463.15 L621.36,462.71 L621.79,462.25 L622.22,461.77 L622.65,461.29 L623.08,460.79 L623.51,460.28 L623.94,459.76 L624.37,459.22 L624.79,458.68 L625.22,458.13 L625.65,457.56 L626.08,456.99 L626.51,456.40 L626.94,455.81 L627.37,455.20 L627.80,454.59 L628.23,453.97 L628.65,453.34 L629.08,452.71 L629.51,452.07 L629.94,451.41 L630.37,450.76 L630.80,450.09 L631.23,449.42 L631.66,448.75 L632.09,448.06 L632.52,447.37 L632.95,446.68 L633.37,445.98 L633.80,445.28 L634.23,444.57 L634.66,443.86 L635.09,443.15 L635.52,442.43 L635.95,441.70 L636.38,440.98 L636.81,440.25 L637.24,439.52 L637.66,438.78 L638.09,438.05 L638.52,437.31 L638.95,436.57 L639.38,435.83 L639.81,435.08 L640.24,434.34 L640.67,433.59 L641.10,432.85 L641.53,432.10 L641.95,431.35 L642.38,430.60 L642.81,429.85 L643.24,429.10 L643.67,428.36 L644.10,427.61 L644.53,426.86 L644.96,426.11 L645.39,425.36 L645.82,424.62 L646.24,423.87 L646.67,423.13 L647.10,422.38 L647.53,421.64 L647.96,420.90 L648.39,420.16 L648.82,419.42 L649.25,418.68 L649.68,417.95 L650.11,417.22 L650.53,416.49 L650.96,415.76 L651.39,415.03 L651.82,414.31 L652.25,413.58 L652.68,412.86 L653.11,412.15 L653.54,411.43 L653.97,410.72 L654.40,410.01 L654.82,409.30 L655.25,408.60 L655.68,407.90 L656.11,407.20 L656.54,406.50 L656.97,405.81 L657.40,405.12 L657.83,404.44 L658.26,403.75 L658.69,403.07 L659.11,402.40 L659.54,401.72 L659.97,401.05 L660.40,400.39 L660.83,399.72 L661.26,399.06 L661.69,398.40 L662.12,397.75 L662.55,397.10 L662.98,396.46 L663.40,395.81 L663.83,395.17 L664.26,394.54 L664.69,393.91 L665.12,393.28 L665.55,392.65 L665.98,392.03 L666.41,391.42 L666.84,390.80 L667.27,390.19 L667.69,389.59 L668.12,388.99 L668.55,388.39 L668.98,387.79 L669.41,387.20 L669.84,386.62 L670.27,386.03 L670.70,385.46 L671.13,384.88 L671.56,384.31 L671.98,383.74 L672.41,383.18 L672.84,382.62 L673.27,382.06 L673.70,381.51" fill="none" stroke="#1010e0" stroke-width="1.9" clip-path="url(#cc)"/>
<path d="M416.3,502.77h4.5 M673.7,502.77h-4.5 M416.3,480.53h4.5 M673.7,480.53h-4.5 M416.3,463.28h4.5 M673.7,463.28h-4.5 M416.3,449.19h4.5 M673.7,449.19h-4.5 M416.3,437.27h4.5 M673.7,437.27h-4.5 M416.3,426.95h4.5 M673.7,426.95h-4.5 M416.3,417.84h4.5 M673.7,417.84h-4.5 M416.3,409.70h6.8 M673.7,409.70h-6.8 M416.3,356.12h4.5 M673.7,356.12h-4.5 M416.3,324.77h4.5 M673.7,324.77h-4.5 M416.3,302.53h4.5 M673.7,302.53h-4.5 M416.3,285.28h4.5 M673.7,285.28h-4.5 M416.3,271.19h4.5 M673.7,271.19h-4.5 M416.30,518.8v-5.5 M416.30,270.9v5.5 M448.48,518.8v-3.0 M448.48,270.9v3.0 M480.65,518.8v-5.5 M480.65,270.9v5.5 M512.83,518.8v-3.0 M512.83,270.9v3.0 M545.00,518.8v-5.5 M545.00,270.9v5.5 M577.18,518.8v-3.0 M577.18,270.9v3.0 M609.35,518.8v-5.5 M609.35,270.9v5.5 M641.53,518.8v-3.0 M641.53,270.9v3.0 M673.70,518.8v-5.5 M673.70,270.9v5.5" stroke="#000" stroke-width="1.6" fill="none"/>
<rect x="416.3" y="270.9" width="257.4" height="247.9" fill="none" stroke="#000" stroke-width="1.8"/>
<polygon points="412.8,370.5 419.8,370.5 416.3,364.5" fill="#0a0ae6" />
<polygon points="416.4,368.4 423.4,368.4 419.9,362.4" fill="#0a0ae6" />
<polygon points="412.5,378.3 419.5,378.3 416.0,372.3" fill="#0a0ae6" />
<polygon points="423.7,378.1 430.7,378.1 427.2,372.1" fill="#0a0ae6" />
<polygon points="427.5,367.1 434.5,367.1 431.0,361.1" fill="#0a0ae6" />
<polygon points="430.0,372.5 437.0,372.5 433.5,366.5" fill="#0a0ae6" />
<polygon points="430.4,359.0 437.4,359.0 433.9,353.0" fill="#0a0ae6" />
<polygon points="433.4,351.0 440.4,351.0 436.9,345.0" fill="#0a0ae6" />
<polygon points="434.6,358.7 441.6,358.7 438.1,352.7" fill="#0a0ae6" />
<polygon points="440.9,356.6 447.9,356.6 444.4,350.6" fill="#0a0ae6" />
<polygon points="442.6,366.5 449.6,366.5 446.1,360.5" fill="#0a0ae6" />
<polygon points="446.7,353.1 453.7,353.1 450.2,347.1" fill="#0a0ae6" />
<polygon points="449.8,348.9 456.8,348.9 453.3,342.9" fill="#0a0ae6" />
<polygon points="459.8,346.6 466.8,346.6 463.3,340.6" fill="#0a0ae6" />
<polygon points="461.9,352.4 468.9,352.4 465.4,346.4" fill="#0a0ae6" />
<polygon points="465.6,348.7 472.6,348.7 469.1,342.7" fill="#0a0ae6" />
<polygon points="467.0,349.3 474.0,349.3 470.5,343.3" fill="#0a0ae6" />
<polygon points="473.7,343.4 480.7,343.4 477.2,337.4" fill="#0a0ae6" />
<polygon points="481.2,344.0 488.2,344.0 484.7,338.0" fill="#0a0ae6" />
<polygon points="482.4,346.6 489.4,346.6 485.9,340.6" fill="#0a0ae6" />
<polygon points="492.4,350.2 499.4,350.2 495.9,344.2" fill="#0a0ae6" />
<polygon points="502.7,355.6 509.7,355.6 506.2,349.6" fill="#0a0ae6" />
<polygon points="504.8,348.2 511.8,348.2 508.3,342.2" fill="#0a0ae6" />
<polygon points="506.9,350.3 513.9,350.3 510.4,344.3" fill="#0a0ae6" />
<polygon points="513.9,350.8 520.9,350.8 517.4,344.8" fill="#0a0ae6" />
<polygon points="514.4,355.0 521.4,355.0 517.9,349.0" fill="#0a0ae6" />
<polygon points="515.8,356.6 522.8,356.6 519.3,350.6" fill="#0a0ae6" />
<polygon points="524.3,360.4 531.3,360.4 527.8,354.4" fill="#0a0ae6" />
<polygon points="524.8,366.5 531.8,366.5 528.3,360.5" fill="#0a0ae6" />
<polygon points="534.6,359.5 541.6,359.5 538.1,353.5" fill="#0a0ae6" />
<polygon points="533.3,376.1 540.3,376.1 536.8,370.1" fill="#0a0ae6" />
<polygon points="541.1,374.5 548.1,374.5 544.6,368.5" fill="#0a0ae6" />
<polygon points="536.1,383.0 543.1,383.0 539.6,377.0" fill="#0a0ae6" />
<polygon points="545.8,380.6 552.8,380.6 549.3,374.6" fill="#0a0ae6" />
<polygon points="546.6,383.0 553.6,383.0 550.1,377.0" fill="#0a0ae6" />
<polygon points="556.1,377.1 563.1,377.1 559.6,371.1" fill="#0a0ae6" />
<polygon points="556.8,380.5 563.8,380.5 560.3,374.5" fill="#0a0ae6" />
<polygon points="541.9,392.4 548.9,392.4 545.4,386.4" fill="#0a0ae6" />
<polygon points="557.6,391.4 564.6,391.4 561.1,385.4" fill="#0a0ae6" />
<polygon points="566.0,388.7 573.0,388.7 569.5,382.7" fill="#0a0ae6" />
<polygon points="568.1,411.3 575.1,411.3 571.6,405.3" fill="#0a0ae6" />
<polygon points="577.2,408.1 584.2,408.1 580.7,402.1" fill="#0a0ae6" />
<polygon points="579.1,416.3 586.1,416.3 582.6,410.3" fill="#0a0ae6" />
<polygon points="565.6,421.3 572.6,421.3 569.1,415.3" fill="#0a0ae6" />
<polygon points="578.0,428.8 585.0,428.8 581.5,422.8" fill="#0a0ae6" />
<polygon points="587.8,427.4 594.8,427.4 591.3,421.4" fill="#0a0ae6" />
<polygon points="593.5,428.4 600.5,428.4 597.0,422.4" fill="#0a0ae6" />
<polygon points="598.6,424.0 605.6,424.0 602.1,418.0" fill="#0a0ae6" />
<polygon points="600.0,427.6 607.0,427.6 603.5,421.6" fill="#0a0ae6" />
<polygon points="610.2,419.0 617.2,419.0 613.7,413.0" fill="#0a0ae6" />
<polygon points="610.4,431.6 617.4,431.6 613.9,425.6" fill="#0a0ae6" />
<polygon points="608.9,435.0 615.9,435.0 612.4,429.0" fill="#0a0ae6" />
<polygon points="625.9,426.6 632.9,426.6 629.4,420.6" fill="#0a0ae6" />
<polygon points="630.0,418.5 637.0,418.5 633.5,412.5" fill="#0a0ae6" />
<polygon points="640.6,418.5 647.6,418.5 644.1,412.5" fill="#0a0ae6" />
<polygon points="651.1,415.3 658.1,415.3 654.6,409.3" fill="#0a0ae6" />
<polygon points="656.9,402.7 663.9,402.7 660.4,396.7" fill="#0a0ae6" />
<polygon points="632.0,397.0 639.0,397.0 635.5,391.0" fill="#0a0ae6" />
<polygon points="642.2,388.9 649.2,388.9 645.7,382.9" fill="#0a0ae6" />
<polygon points="642.0,394.4 649.0,394.4 645.5,388.4" fill="#0a0ae6" />
<polygon points="654.2,383.4 661.2,383.4 657.7,377.4" fill="#0a0ae6" />
<polygon points="660.0,388.3 667.0,388.3 663.5,382.3" fill="#0a0ae6" />
<polygon points="669.8,377.9 676.8,377.9 673.3,371.9" fill="#0a0ae6" />
<rect x="414.5" y="345.6" width="4.6" height="4.6" fill="#e8141e"/>
<rect x="417.2" y="339.9" width="4.6" height="4.6" fill="#e8141e"/>
<rect x="418.9" y="332.5" width="4.6" height="4.6" fill="#e8141e"/>
<rect x="420.2" y="328.7" width="4.6" height="4.6" fill="#e8141e"/>
<rect x="426.4" y="343.9" width="4.6" height="4.6" fill="#e8141e"/>
<rect x="427.8" y="338.3" width="4.6" height="4.6" fill="#e8141e"/>
<rect x="431.1" y="335.6" width="4.6" height="4.6" fill="#e8141e"/>
<rect x="435.6" y="324.7" width="4.6" height="4.6" fill="#e8141e"/>
<rect x="436.7" y="336.9" width="4.6" height="4.6" fill="#e8141e"/>
<rect x="444.1" y="331.5" width="4.6" height="4.6" fill="#e8141e"/>
<rect x="449.0" y="314.6" width="4.6" height="4.6" fill="#e8141e"/>
<rect x="454.5" y="317.0" width="4.6" height="4.6" fill="#e8141e"/>
<rect x="458.0" y="320.2" width="4.6" height="4.6" fill="#e8141e"/>
<rect x="459.2" y="315.9" width="4.6" height="4.6" fill="#e8141e"/>
<rect x="460.1" y="310.5" width="4.6" height="4.6" fill="#e8141e"/>
<rect x="474.3" y="312.5" width="4.6" height="4.6" fill="#e8141e"/>
<rect x="474.3" y="319.5" width="4.6" height="4.6" fill="#e8141e"/>
<rect x="494.1" y="311.1" width="4.6" height="4.6" fill="#e8141e"/>
<rect x="501.1" y="317.6" width="4.6" height="4.6" fill="#e8141e"/>
<rect x="513.9" y="323.7" width="4.6" height="4.6" fill="#e8141e"/>
<rect x="521.3" y="332.2" width="4.6" height="4.6" fill="#e8141e"/>
<rect x="527.0" y="336.2" width="4.6" height="4.6" fill="#e8141e"/>
<rect x="531.8" y="331.7" width="4.6" height="4.6" fill="#e8141e"/>
<rect x="543.1" y="342.0" width="4.6" height="4.6" fill="#e8141e"/>
<rect x="543.1" y="345.2" width="4.6" height="4.6" fill="#e8141e"/>
<rect x="541.5" y="348.1" width="4.6" height="4.6" fill="#e8141e"/>
<rect x="542.1" y="351.1" width="4.6" height="4.6" fill="#e8141e"/>
<rect x="543.6" y="384.3" width="4.6" height="4.6" fill="#e8141e"/>
<rect x="571.2" y="376.5" width="4.6" height="4.6" fill="#e8141e"/>
<rect x="574.5" y="381.3" width="4.6" height="4.6" fill="#e8141e"/>
<rect x="573.5" y="396.5" width="4.6" height="4.6" fill="#e8141e"/>
<rect x="560.9" y="406.5" width="4.6" height="4.6" fill="#e8141e"/>
<rect x="566.9" y="427.3" width="4.6" height="4.6" fill="#e8141e"/>
<rect x="577.8" y="427.3" width="4.6" height="4.6" fill="#e8141e"/>
<rect x="579.1" y="443.4" width="4.6" height="4.6" fill="#e8141e"/>
<rect x="593.8" y="433.6" width="4.6" height="4.6" fill="#e8141e"/>
<rect x="607.2" y="412.6" width="4.6" height="4.6" fill="#e8141e"/>
<rect x="618.2" y="418.0" width="4.6" height="4.6" fill="#e8141e"/>
<rect x="623.9" y="410.0" width="4.6" height="4.6" fill="#e8141e"/>
<rect x="623.1" y="429.7" width="4.6" height="4.6" fill="#e8141e"/>
<rect x="614.2" y="442.6" width="4.6" height="4.6" fill="#e8141e"/>
<rect x="612.1" y="450.5" width="4.6" height="4.6" fill="#e8141e"/>
<rect x="633.9" y="439.3" width="4.6" height="4.6" fill="#e8141e"/>
<rect x="640.6" y="424.2" width="4.6" height="4.6" fill="#e8141e"/>
<rect x="651.5" y="415.6" width="4.6" height="4.6" fill="#e8141e"/>
<rect x="633.0" y="388.7" width="4.6" height="4.6" fill="#e8141e"/>
<rect x="646.1" y="378.7" width="4.6" height="4.6" fill="#e8141e"/>
<rect x="653.2" y="379.9" width="4.6" height="4.6" fill="#e8141e"/>
<rect x="657.5" y="379.9" width="4.6" height="4.6" fill="#e8141e"/>
<rect x="650.1" y="363.7" width="4.6" height="4.6" fill="#e8141e"/>
<rect x="655.9" y="367.3" width="4.6" height="4.6" fill="#e8141e"/>
<rect x="658.7" y="357.9" width="4.6" height="4.6" fill="#e8141e"/>
<rect x="663.0" y="359.1" width="4.6" height="4.6" fill="#e8141e"/>
<text transform="translate(351,273.8) scale(1.015,1)" font-family="Liberation Sans, sans-serif" font-size="23" fill="#111">(c)</text>
<text transform="translate(403.00,277.80) scale(1.15,1)" font-family="Liberation Sans, sans-serif" font-size="14.5" text-anchor="middle" fill="#111">6</text>
<text transform="translate(403.60,307.20) scale(1.15,1)" font-family="Liberation Sans, sans-serif" font-size="14.5" text-anchor="middle" fill="#111">4</text>
<text transform="translate(402.90,360.50) scale(1.15,1)" font-family="Liberation Sans, sans-serif" font-size="14.5" text-anchor="middle" fill="#111">2</text>
<text transform="translate(403.00,414.00) scale(1.15,1)" font-family="Liberation Sans, sans-serif" font-size="14.5" text-anchor="middle" fill="#111">1</text>
<text transform="translate(401.75,430.30) scale(1.15,1)" font-family="Liberation Sans, sans-serif" font-size="14.5" text-anchor="middle" fill="#111">0.8</text>
<text transform="translate(401.75,453.80) scale(1.15,1)" font-family="Liberation Sans, sans-serif" font-size="14.5" text-anchor="middle" fill="#111">0.6</text>
<text transform="translate(401.50,485.20) scale(1.15,1)" font-family="Liberation Sans, sans-serif" font-size="14.5" text-anchor="middle" fill="#111">0.4</text>
<text transform="translate(401.50,523.20) scale(1.15,1)" font-family="Liberation Sans, sans-serif" font-size="14.5" text-anchor="middle" fill="#111">0.2</text>
<text transform="translate(415.80,539.20) scale(1.15,1)" font-family="Liberation Sans, sans-serif" font-size="14.5" text-anchor="middle" fill="#111">-1.0</text>
<text transform="translate(479.50,539.20) scale(1.15,1)" font-family="Liberation Sans, sans-serif" font-size="14.5" text-anchor="middle" fill="#111">-0.5</text>
<text transform="translate(544.00,539.20) scale(1.15,1)" font-family="Liberation Sans, sans-serif" font-size="14.5" text-anchor="middle" fill="#111">0</text>
<text transform="translate(608.20,539.20) scale(1.15,1)" font-family="Liberation Sans, sans-serif" font-size="14.5" text-anchor="middle" fill="#111">0.5</text>
<text transform="translate(672.50,539.20) scale(1.15,1)" font-family="Liberation Sans, sans-serif" font-size="14.5" text-anchor="middle" fill="#111">1.0</text>
<text x="443.7" y="566.2" font-family="Liberation Sans, sans-serif" font-size="19.7" fill="#111">Phase difference</text>
<text x="597.9" y="566.2" font-family="Liberation Sans, sans-serif" font-size="19.7" fill="#111">&#916;&#966;/</text>
<text x="629.9" y="566.2" font-family="Liberation Serif, serif" font-size="20" fill="#111">&#960;</text>
<text transform="translate(376.8,466.2) rotate(-90)" x="0" y="0" font-family="Liberation Sans, sans-serif" font-size="19.7" fill="#111">Parametric gain &#934;</text>
<rect x="562.3" y="278.8" width="101.8" height="35" fill="#fff" stroke="#000" stroke-width="1.6"/>
<rect x="575.1" y="288.2" width="3.8" height="4" fill="#e8141e"/>
<polygon points="586.4,293.7 592.4,293.7 589.4,287.9" fill="#0a0ae6" />
<text x="598.5" y="293.7" font-family="Liberation Sans, sans-serif" font-size="13.3" fill="#111">Expriment</text>
<line x1="573.2" y1="306.1" x2="593.9" y2="306.1" stroke="#000" stroke-width="1.7"/>
<text x="613.5" y="309.8" font-family="Liberation Sans, sans-serif" font-size="13.3" fill="#111">Fit</text>
</svg>
</body></html>
